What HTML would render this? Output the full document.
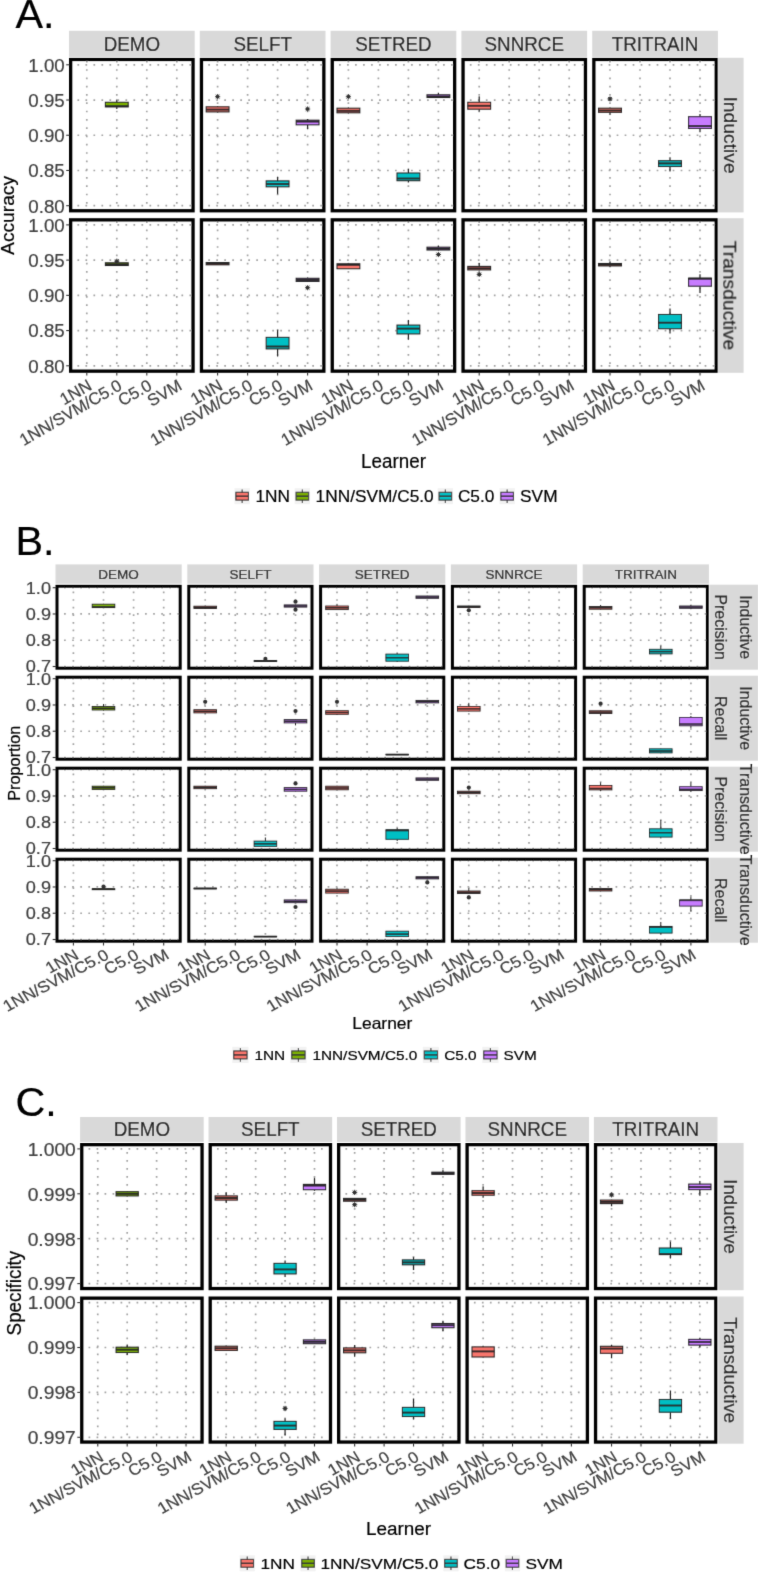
<!DOCTYPE html>
<html><head><meta charset="utf-8"><style>
html,body{margin:0;padding:0;background:#fff;overflow:hidden;}
svg{display:block;}
text{font-family:"Liberation Sans", sans-serif;}
</style></head><body>
<svg width="758" height="1572" viewBox="0 0 758 1572">
<defs><filter id="bl" x="0" y="0" width="758" height="1572" filterUnits="userSpaceOnUse"><feConvolveMatrix order="3" kernelMatrix="0.01134 0.08382 0.01134 0.08382 0.61935 0.08382 0.01134 0.08382 0.01134" divisor="1" edgeMode="none"/></filter></defs>
<rect width="758" height="1572" fill="#fff"/>
<g filter="url(#bl)">
<text transform="translate(15.50,28.10)" font-size="41.3" fill="#000" stroke="#000" stroke-width="0.2">A.</text>
<rect x="69.00" y="30.80" width="125.70" height="26.10" fill="#D9D9D9"/>
<text transform="translate(131.85,51.30) scale(0.950,1)" font-size="19.8" text-anchor="middle" fill="#1A1A1A" stroke="#1A1A1A" stroke-width="0.2">DEMO</text>
<rect x="199.80" y="30.80" width="125.70" height="26.10" fill="#D9D9D9"/>
<text transform="translate(262.65,51.30) scale(0.950,1)" font-size="19.8" text-anchor="middle" fill="#1A1A1A" stroke="#1A1A1A" stroke-width="0.2">SELFT</text>
<rect x="330.60" y="30.80" width="125.70" height="26.10" fill="#D9D9D9"/>
<text transform="translate(393.45,51.30) scale(0.950,1)" font-size="19.8" text-anchor="middle" fill="#1A1A1A" stroke="#1A1A1A" stroke-width="0.2">SETRED</text>
<rect x="461.40" y="30.80" width="125.70" height="26.10" fill="#D9D9D9"/>
<text transform="translate(524.25,51.30) scale(0.950,1)" font-size="19.8" text-anchor="middle" fill="#1A1A1A" stroke="#1A1A1A" stroke-width="0.2">SNNRCE</text>
<rect x="592.20" y="30.80" width="125.70" height="26.10" fill="#D9D9D9"/>
<text transform="translate(655.05,51.30) scale(0.950,1)" font-size="19.8" text-anchor="middle" fill="#1A1A1A" stroke="#1A1A1A" stroke-width="0.2">TRITRAIN</text>
<rect x="718.00" y="57.80" width="25.60" height="154.60" fill="#D9D9D9"/>
<text transform="translate(723.50,135.10) scale(0.990,1) rotate(90)" font-size="19.3" text-anchor="middle" fill="#1A1A1A" stroke="#1A1A1A" stroke-width="0.2">Inductive</text>
<rect x="718.00" y="218.20" width="25.60" height="154.60" fill="#D9D9D9"/>
<text transform="translate(723.50,295.50) scale(0.990,1) rotate(90)" font-size="19.3" text-anchor="middle" fill="#1A1A1A" stroke="#1A1A1A" stroke-width="0.2">Transductive</text>
<path d="M72.50 64.80H191.70M72.50 100.03H191.70M72.50 135.25H191.70M72.50 170.48H191.70M72.50 205.70H191.70" stroke="#A3A3A3" stroke-width="1.7" stroke-dasharray="1.7 6.30" stroke-dashoffset="3.05" fill="none"/>
<path d="M86.80 208.90V60.80M116.80 208.90V60.80M146.80 208.90V60.80M176.80 208.90V60.80" stroke="#A3A3A3" stroke-width="1.7" stroke-dasharray="1.7 6.60" stroke-dashoffset="3.05" fill="none"/>
<path d="M116.80 99.50V102.30M116.80 106.90V109.00" stroke="#222" stroke-width="1.21"/>
<rect x="105.40" y="102.30" width="22.80" height="4.60" fill="#7CAE00" stroke="#262626" stroke-width="1.1"/>
<path d="M105.40 106.10H128.20" stroke="#262626" stroke-width="1.9"/>
<rect x="70.65" y="59.45" width="122.40" height="151.30" fill="none" stroke="#000" stroke-width="3.3"/>
<path d="M66.20 64.80H69.50" stroke="#333" stroke-width="1.1"/>
<text transform="translate(64.70,71.65) scale(0.975,1)" font-size="19.2" text-anchor="end" fill="#404040" stroke="#404040" stroke-width="0.2">1.00</text>
<path d="M66.20 100.03H69.50" stroke="#333" stroke-width="1.1"/>
<text transform="translate(64.70,106.88) scale(0.975,1)" font-size="19.2" text-anchor="end" fill="#404040" stroke="#404040" stroke-width="0.2">0.95</text>
<path d="M66.20 135.25H69.50" stroke="#333" stroke-width="1.1"/>
<text transform="translate(64.70,142.10) scale(0.975,1)" font-size="19.2" text-anchor="end" fill="#404040" stroke="#404040" stroke-width="0.2">0.90</text>
<path d="M66.20 170.48H69.50" stroke="#333" stroke-width="1.1"/>
<text transform="translate(64.70,177.33) scale(0.975,1)" font-size="19.2" text-anchor="end" fill="#404040" stroke="#404040" stroke-width="0.2">0.85</text>
<path d="M66.20 205.70H69.50" stroke="#333" stroke-width="1.1"/>
<text transform="translate(64.70,212.55) scale(0.975,1)" font-size="19.2" text-anchor="end" fill="#404040" stroke="#404040" stroke-width="0.2">0.80</text>
<path d="M203.30 64.80H322.50M203.30 100.03H322.50M203.30 135.25H322.50M203.30 170.48H322.50M203.30 205.70H322.50" stroke="#A3A3A3" stroke-width="1.7" stroke-dasharray="1.7 6.30" stroke-dashoffset="3.05" fill="none"/>
<path d="M217.60 208.90V60.80M247.60 208.90V60.80M277.60 208.90V60.80M307.60 208.90V60.80" stroke="#A3A3A3" stroke-width="1.7" stroke-dasharray="1.7 6.60" stroke-dashoffset="3.05" fill="none"/>
<path d="M217.60 106.00V106.80M217.60 111.90V112.50" stroke="#222" stroke-width="1.21"/>
<rect x="206.20" y="106.80" width="22.80" height="5.10" fill="#F8766D" stroke="#262626" stroke-width="1.1"/>
<path d="M206.20 109.60H229.00" stroke="#262626" stroke-width="1.9"/>
<circle cx="217.60" cy="96.70" r="1.8" fill="#333"/>
<path d="M215.00 96.70H220.20M217.60 94.10V99.30M215.70 94.80L219.50 98.60M215.70 98.60L219.50 94.80" stroke="#333" stroke-width="0.9"/>
<path d="M277.60 176.70V180.90M277.60 186.80V194.20" stroke="#222" stroke-width="1.21"/>
<rect x="266.20" y="180.90" width="22.80" height="5.90" fill="#00BFC4" stroke="#262626" stroke-width="1.1"/>
<path d="M266.20 184.00H289.00" stroke="#262626" stroke-width="1.9"/>
<path d="M307.60 119.00V120.20M307.60 124.80V129.30" stroke="#222" stroke-width="1.21"/>
<rect x="296.20" y="120.20" width="22.80" height="4.60" fill="#C77CFF" stroke="#262626" stroke-width="1.1"/>
<path d="M296.20 121.60H319.00" stroke="#262626" stroke-width="1.9"/>
<circle cx="307.60" cy="109.00" r="1.8" fill="#333"/>
<path d="M305.00 109.00H310.20M307.60 106.40V111.60M305.70 107.10L309.50 110.90M305.70 110.90L309.50 107.10" stroke="#333" stroke-width="0.9"/>
<rect x="201.45" y="59.45" width="122.40" height="151.30" fill="none" stroke="#000" stroke-width="3.3"/>
<path d="M334.10 64.80H453.30M334.10 100.03H453.30M334.10 135.25H453.30M334.10 170.48H453.30M334.10 205.70H453.30" stroke="#A3A3A3" stroke-width="1.7" stroke-dasharray="1.7 6.30" stroke-dashoffset="3.05" fill="none"/>
<path d="M348.40 208.90V60.80M378.40 208.90V60.80M408.40 208.90V60.80M438.40 208.90V60.80" stroke="#A3A3A3" stroke-width="1.7" stroke-dasharray="1.7 6.60" stroke-dashoffset="3.05" fill="none"/>
<path d="M348.40 107.50V108.20M348.40 112.80V113.50" stroke="#222" stroke-width="1.21"/>
<rect x="337.00" y="108.20" width="22.80" height="4.60" fill="#F8766D" stroke="#262626" stroke-width="1.1"/>
<path d="M337.00 110.80H359.80" stroke="#262626" stroke-width="1.9"/>
<circle cx="348.40" cy="96.70" r="1.8" fill="#333"/>
<path d="M345.80 96.70H351.00M348.40 94.10V99.30M346.50 94.80L350.30 98.60M346.50 98.60L350.30 94.80" stroke="#333" stroke-width="0.9"/>
<path d="M408.40 168.70V173.00M408.40 180.70V182.40" stroke="#222" stroke-width="1.21"/>
<rect x="397.00" y="173.00" width="22.80" height="7.70" fill="#00BFC4" stroke="#262626" stroke-width="1.1"/>
<path d="M397.00 178.50H419.80" stroke="#262626" stroke-width="1.9"/>
<path d="M438.40 92.70V94.80M438.40 97.50V98.00" stroke="#222" stroke-width="1.21"/>
<rect x="427.00" y="94.80" width="22.80" height="2.70" fill="#C77CFF" stroke="#262626" stroke-width="1.1"/>
<path d="M427.00 96.50H449.80" stroke="#262626" stroke-width="1.9"/>
<rect x="332.25" y="59.45" width="122.40" height="151.30" fill="none" stroke="#000" stroke-width="3.3"/>
<path d="M464.90 64.80H584.10M464.90 100.03H584.10M464.90 135.25H584.10M464.90 170.48H584.10M464.90 205.70H584.10" stroke="#A3A3A3" stroke-width="1.7" stroke-dasharray="1.7 6.30" stroke-dashoffset="3.05" fill="none"/>
<path d="M479.20 208.90V60.80M509.20 208.90V60.80M539.20 208.90V60.80M569.20 208.90V60.80" stroke="#A3A3A3" stroke-width="1.7" stroke-dasharray="1.7 6.60" stroke-dashoffset="3.05" fill="none"/>
<path d="M479.20 96.20V102.30M479.20 109.20V111.60" stroke="#222" stroke-width="1.21"/>
<rect x="467.80" y="102.30" width="22.80" height="6.90" fill="#F8766D" stroke="#262626" stroke-width="1.1"/>
<path d="M467.80 105.80H490.60" stroke="#262626" stroke-width="1.9"/>
<rect x="463.05" y="59.45" width="122.40" height="151.30" fill="none" stroke="#000" stroke-width="3.3"/>
<path d="M595.70 64.80H714.90M595.70 100.03H714.90M595.70 135.25H714.90M595.70 170.48H714.90M595.70 205.70H714.90" stroke="#A3A3A3" stroke-width="1.7" stroke-dasharray="1.7 6.30" stroke-dashoffset="3.05" fill="none"/>
<path d="M610.00 208.90V60.80M640.00 208.90V60.80M670.00 208.90V60.80M700.00 208.90V60.80" stroke="#A3A3A3" stroke-width="1.7" stroke-dasharray="1.7 6.60" stroke-dashoffset="3.05" fill="none"/>
<path d="M610.00 107.50V108.20M610.00 112.30V115.00" stroke="#222" stroke-width="1.21"/>
<rect x="598.60" y="108.20" width="22.80" height="4.10" fill="#F8766D" stroke="#262626" stroke-width="1.1"/>
<path d="M598.60 110.50H621.40" stroke="#262626" stroke-width="1.9"/>
<circle cx="610.00" cy="98.90" r="1.8" fill="#333"/>
<path d="M607.40 98.90H612.60M610.00 96.30V101.50M608.10 97.00L611.90 100.80M608.10 100.80L611.90 97.00" stroke="#333" stroke-width="0.9"/>
<path d="M670.00 157.20V160.70M670.00 166.50V171.60" stroke="#222" stroke-width="1.21"/>
<rect x="658.60" y="160.70" width="22.80" height="5.80" fill="#00BFC4" stroke="#262626" stroke-width="1.1"/>
<path d="M658.60 163.40H681.40" stroke="#262626" stroke-width="1.9"/>
<path d="M700.00 114.00V116.70M700.00 128.40V132.20" stroke="#222" stroke-width="1.21"/>
<rect x="688.60" y="116.70" width="22.80" height="11.70" fill="#C77CFF" stroke="#262626" stroke-width="1.1"/>
<path d="M688.60 126.00H711.40" stroke="#262626" stroke-width="1.9"/>
<rect x="593.85" y="59.45" width="122.40" height="151.30" fill="none" stroke="#000" stroke-width="3.3"/>
<path d="M72.50 224.90H191.70M72.50 260.12H191.70M72.50 295.35H191.70M72.50 330.57H191.70M72.50 365.80H191.70" stroke="#A3A3A3" stroke-width="1.7" stroke-dasharray="1.7 6.30" stroke-dashoffset="3.05" fill="none"/>
<path d="M86.80 369.30V221.20M116.80 369.30V221.20M146.80 369.30V221.20M176.80 369.30V221.20" stroke="#A3A3A3" stroke-width="1.7" stroke-dasharray="1.7 6.60" stroke-dashoffset="3.05" fill="none"/>
<path d="M116.80 262.50V262.80M116.80 265.50V266.00" stroke="#222" stroke-width="1.21"/>
<rect x="105.40" y="262.80" width="22.80" height="2.70" fill="#7CAE00" stroke="#262626" stroke-width="1.1"/>
<path d="M105.40 264.30H128.20" stroke="#262626" stroke-width="1.9"/>
<circle cx="116.80" cy="261.20" r="1.8" fill="#333"/>
<path d="M114.20 261.20H119.40M116.80 258.60V263.80M114.90 259.30L118.70 263.10M114.90 263.10L118.70 259.30" stroke="#333" stroke-width="0.9"/>
<rect x="70.65" y="219.85" width="122.40" height="151.30" fill="none" stroke="#000" stroke-width="3.3"/>
<path d="M66.20 224.90H69.50" stroke="#333" stroke-width="1.1"/>
<text transform="translate(64.70,231.75) scale(0.975,1)" font-size="19.2" text-anchor="end" fill="#404040" stroke="#404040" stroke-width="0.2">1.00</text>
<path d="M66.20 260.12H69.50" stroke="#333" stroke-width="1.1"/>
<text transform="translate(64.70,266.98) scale(0.975,1)" font-size="19.2" text-anchor="end" fill="#404040" stroke="#404040" stroke-width="0.2">0.95</text>
<path d="M66.20 295.35H69.50" stroke="#333" stroke-width="1.1"/>
<text transform="translate(64.70,302.20) scale(0.975,1)" font-size="19.2" text-anchor="end" fill="#404040" stroke="#404040" stroke-width="0.2">0.90</text>
<path d="M66.20 330.57H69.50" stroke="#333" stroke-width="1.1"/>
<text transform="translate(64.70,337.43) scale(0.975,1)" font-size="19.2" text-anchor="end" fill="#404040" stroke="#404040" stroke-width="0.2">0.85</text>
<path d="M66.20 365.80H69.50" stroke="#333" stroke-width="1.1"/>
<text transform="translate(64.70,372.65) scale(0.975,1)" font-size="19.2" text-anchor="end" fill="#404040" stroke="#404040" stroke-width="0.2">0.80</text>
<path d="M86.80 372.30V375.60" stroke="#333" stroke-width="1.1"/>
<text transform="translate(93.00,388.80) rotate(-30)" font-size="16.8" text-anchor="end" fill="#404040" stroke="#404040" stroke-width="0.2">1NN</text>
<path d="M116.80 372.30V375.60" stroke="#333" stroke-width="1.1"/>
<text transform="translate(123.00,388.80) rotate(-30)" font-size="16.8" text-anchor="end" fill="#404040" stroke="#404040" stroke-width="0.2">1NN/SVM/C5.0</text>
<path d="M146.80 372.30V375.60" stroke="#333" stroke-width="1.1"/>
<text transform="translate(153.00,388.80) rotate(-30)" font-size="16.8" text-anchor="end" fill="#404040" stroke="#404040" stroke-width="0.2">C5.0</text>
<path d="M176.80 372.30V375.60" stroke="#333" stroke-width="1.1"/>
<text transform="translate(183.00,388.80) rotate(-30)" font-size="16.8" text-anchor="end" fill="#404040" stroke="#404040" stroke-width="0.2">SVM</text>
<path d="M203.30 224.90H322.50M203.30 260.12H322.50M203.30 295.35H322.50M203.30 330.57H322.50M203.30 365.80H322.50" stroke="#A3A3A3" stroke-width="1.7" stroke-dasharray="1.7 6.30" stroke-dashoffset="3.05" fill="none"/>
<path d="M217.60 369.30V221.20M247.60 369.30V221.20M277.60 369.30V221.20M307.60 369.30V221.20" stroke="#A3A3A3" stroke-width="1.7" stroke-dasharray="1.7 6.60" stroke-dashoffset="3.05" fill="none"/>
<path d="M217.60 262.50V262.60M217.60 264.80V265.00" stroke="#222" stroke-width="1.21"/>
<rect x="206.20" y="262.60" width="22.80" height="2.20" fill="#F8766D" stroke="#262626" stroke-width="1.1"/>
<path d="M206.20 263.60H229.00" stroke="#262626" stroke-width="1.9"/>
<path d="M277.60 329.70V337.40M277.60 348.90V356.60" stroke="#222" stroke-width="1.21"/>
<rect x="266.20" y="337.40" width="22.80" height="11.50" fill="#00BFC4" stroke="#262626" stroke-width="1.1"/>
<path d="M266.20 346.50H289.00" stroke="#262626" stroke-width="1.9"/>
<path d="M307.60 277.50V278.30M307.60 281.40V282.00" stroke="#222" stroke-width="1.21"/>
<rect x="296.20" y="278.30" width="22.80" height="3.10" fill="#C77CFF" stroke="#262626" stroke-width="1.1"/>
<path d="M296.20 280.00H319.00" stroke="#262626" stroke-width="1.9"/>
<circle cx="307.60" cy="287.70" r="1.8" fill="#333"/>
<path d="M305.00 287.70H310.20M307.60 285.10V290.30M305.70 285.80L309.50 289.60M305.70 289.60L309.50 285.80" stroke="#333" stroke-width="0.9"/>
<rect x="201.45" y="219.85" width="122.40" height="151.30" fill="none" stroke="#000" stroke-width="3.3"/>
<path d="M217.60 372.30V375.60" stroke="#333" stroke-width="1.1"/>
<text transform="translate(223.80,388.80) rotate(-30)" font-size="16.8" text-anchor="end" fill="#404040" stroke="#404040" stroke-width="0.2">1NN</text>
<path d="M247.60 372.30V375.60" stroke="#333" stroke-width="1.1"/>
<text transform="translate(253.80,388.80) rotate(-30)" font-size="16.8" text-anchor="end" fill="#404040" stroke="#404040" stroke-width="0.2">1NN/SVM/C5.0</text>
<path d="M277.60 372.30V375.60" stroke="#333" stroke-width="1.1"/>
<text transform="translate(283.80,388.80) rotate(-30)" font-size="16.8" text-anchor="end" fill="#404040" stroke="#404040" stroke-width="0.2">C5.0</text>
<path d="M307.60 372.30V375.60" stroke="#333" stroke-width="1.1"/>
<text transform="translate(313.80,388.80) rotate(-30)" font-size="16.8" text-anchor="end" fill="#404040" stroke="#404040" stroke-width="0.2">SVM</text>
<path d="M334.10 224.90H453.30M334.10 260.12H453.30M334.10 295.35H453.30M334.10 330.57H453.30M334.10 365.80H453.30" stroke="#A3A3A3" stroke-width="1.7" stroke-dasharray="1.7 6.30" stroke-dashoffset="3.05" fill="none"/>
<path d="M348.40 369.30V221.20M378.40 369.30V221.20M408.40 369.30V221.20M438.40 369.30V221.20" stroke="#A3A3A3" stroke-width="1.7" stroke-dasharray="1.7 6.60" stroke-dashoffset="3.05" fill="none"/>
<path d="M348.40 263.50V263.80M348.40 268.70V269.00" stroke="#222" stroke-width="1.21"/>
<rect x="337.00" y="263.80" width="22.80" height="4.90" fill="#F8766D" stroke="#262626" stroke-width="1.1"/>
<path d="M337.00 264.90H359.80" stroke="#262626" stroke-width="1.9"/>
<path d="M408.40 319.90V325.10M408.40 333.90V339.80" stroke="#222" stroke-width="1.21"/>
<rect x="397.00" y="325.10" width="22.80" height="8.80" fill="#00BFC4" stroke="#262626" stroke-width="1.1"/>
<path d="M397.00 328.60H419.80" stroke="#262626" stroke-width="1.9"/>
<path d="M438.40 245.40V247.20M438.40 250.00V250.50" stroke="#222" stroke-width="1.21"/>
<rect x="427.00" y="247.20" width="22.80" height="2.80" fill="#C77CFF" stroke="#262626" stroke-width="1.1"/>
<path d="M427.00 248.80H449.80" stroke="#262626" stroke-width="1.9"/>
<circle cx="438.40" cy="254.50" r="1.8" fill="#333"/>
<path d="M435.80 254.50H441.00M438.40 251.90V257.10M436.50 252.60L440.30 256.40M436.50 256.40L440.30 252.60" stroke="#333" stroke-width="0.9"/>
<rect x="332.25" y="219.85" width="122.40" height="151.30" fill="none" stroke="#000" stroke-width="3.3"/>
<path d="M348.40 372.30V375.60" stroke="#333" stroke-width="1.1"/>
<text transform="translate(354.60,388.80) rotate(-30)" font-size="16.8" text-anchor="end" fill="#404040" stroke="#404040" stroke-width="0.2">1NN</text>
<path d="M378.40 372.30V375.60" stroke="#333" stroke-width="1.1"/>
<text transform="translate(384.60,388.80) rotate(-30)" font-size="16.8" text-anchor="end" fill="#404040" stroke="#404040" stroke-width="0.2">1NN/SVM/C5.0</text>
<path d="M408.40 372.30V375.60" stroke="#333" stroke-width="1.1"/>
<text transform="translate(414.60,388.80) rotate(-30)" font-size="16.8" text-anchor="end" fill="#404040" stroke="#404040" stroke-width="0.2">C5.0</text>
<path d="M438.40 372.30V375.60" stroke="#333" stroke-width="1.1"/>
<text transform="translate(444.60,388.80) rotate(-30)" font-size="16.8" text-anchor="end" fill="#404040" stroke="#404040" stroke-width="0.2">SVM</text>
<path d="M464.90 224.90H584.10M464.90 260.12H584.10M464.90 295.35H584.10M464.90 330.57H584.10M464.90 365.80H584.10" stroke="#A3A3A3" stroke-width="1.7" stroke-dasharray="1.7 6.30" stroke-dashoffset="3.05" fill="none"/>
<path d="M479.20 369.30V221.20M509.20 369.30V221.20M539.20 369.30V221.20M569.20 369.30V221.20" stroke="#A3A3A3" stroke-width="1.7" stroke-dasharray="1.7 6.60" stroke-dashoffset="3.05" fill="none"/>
<path d="M479.20 263.00V266.40M479.20 269.90V270.50" stroke="#222" stroke-width="1.21"/>
<rect x="467.80" y="266.40" width="22.80" height="3.50" fill="#F8766D" stroke="#262626" stroke-width="1.1"/>
<path d="M467.80 268.30H490.60" stroke="#262626" stroke-width="1.9"/>
<circle cx="479.20" cy="274.40" r="1.8" fill="#333"/>
<path d="M476.60 274.40H481.80M479.20 271.80V277.00M477.30 272.50L481.10 276.30M477.30 276.30L481.10 272.50" stroke="#333" stroke-width="0.9"/>
<rect x="463.05" y="219.85" width="122.40" height="151.30" fill="none" stroke="#000" stroke-width="3.3"/>
<path d="M479.20 372.30V375.60" stroke="#333" stroke-width="1.1"/>
<text transform="translate(485.40,388.80) rotate(-30)" font-size="16.8" text-anchor="end" fill="#404040" stroke="#404040" stroke-width="0.2">1NN</text>
<path d="M509.20 372.30V375.60" stroke="#333" stroke-width="1.1"/>
<text transform="translate(515.40,388.80) rotate(-30)" font-size="16.8" text-anchor="end" fill="#404040" stroke="#404040" stroke-width="0.2">1NN/SVM/C5.0</text>
<path d="M539.20 372.30V375.60" stroke="#333" stroke-width="1.1"/>
<text transform="translate(545.40,388.80) rotate(-30)" font-size="16.8" text-anchor="end" fill="#404040" stroke="#404040" stroke-width="0.2">C5.0</text>
<path d="M569.20 372.30V375.60" stroke="#333" stroke-width="1.1"/>
<text transform="translate(575.40,388.80) rotate(-30)" font-size="16.8" text-anchor="end" fill="#404040" stroke="#404040" stroke-width="0.2">SVM</text>
<path d="M595.70 224.90H714.90M595.70 260.12H714.90M595.70 295.35H714.90M595.70 330.57H714.90M595.70 365.80H714.90" stroke="#A3A3A3" stroke-width="1.7" stroke-dasharray="1.7 6.30" stroke-dashoffset="3.05" fill="none"/>
<path d="M610.00 369.30V221.20M640.00 369.30V221.20M670.00 369.30V221.20M700.00 369.30V221.20" stroke="#A3A3A3" stroke-width="1.7" stroke-dasharray="1.7 6.60" stroke-dashoffset="3.05" fill="none"/>
<path d="M610.00 261.30V263.50M610.00 265.90V267.30" stroke="#222" stroke-width="1.21"/>
<rect x="598.60" y="263.50" width="22.80" height="2.40" fill="#F8766D" stroke="#262626" stroke-width="1.1"/>
<path d="M598.60 264.70H621.40" stroke="#262626" stroke-width="1.9"/>
<path d="M670.00 308.50V314.50M670.00 328.70V333.40" stroke="#222" stroke-width="1.21"/>
<rect x="658.60" y="314.50" width="22.80" height="14.20" fill="#00BFC4" stroke="#262626" stroke-width="1.1"/>
<path d="M658.60 322.70H681.40" stroke="#262626" stroke-width="1.9"/>
<path d="M700.00 274.20V278.10M700.00 286.20V293.00" stroke="#222" stroke-width="1.21"/>
<rect x="688.60" y="278.10" width="22.80" height="8.10" fill="#C77CFF" stroke="#262626" stroke-width="1.1"/>
<path d="M688.60 278.80H711.40" stroke="#262626" stroke-width="1.9"/>
<rect x="593.85" y="219.85" width="122.40" height="151.30" fill="none" stroke="#000" stroke-width="3.3"/>
<path d="M610.00 372.30V375.60" stroke="#333" stroke-width="1.1"/>
<text transform="translate(616.20,388.80) rotate(-30)" font-size="16.8" text-anchor="end" fill="#404040" stroke="#404040" stroke-width="0.2">1NN</text>
<path d="M640.00 372.30V375.60" stroke="#333" stroke-width="1.1"/>
<text transform="translate(646.20,388.80) rotate(-30)" font-size="16.8" text-anchor="end" fill="#404040" stroke="#404040" stroke-width="0.2">1NN/SVM/C5.0</text>
<path d="M670.00 372.30V375.60" stroke="#333" stroke-width="1.1"/>
<text transform="translate(676.20,388.80) rotate(-30)" font-size="16.8" text-anchor="end" fill="#404040" stroke="#404040" stroke-width="0.2">C5.0</text>
<path d="M700.00 372.30V375.60" stroke="#333" stroke-width="1.1"/>
<text transform="translate(706.20,388.80) rotate(-30)" font-size="16.8" text-anchor="end" fill="#404040" stroke="#404040" stroke-width="0.2">SVM</text>
<text transform="translate(14.40,215.45) rotate(-90)" font-size="19.2" text-anchor="middle" fill="#000" stroke="#000" stroke-width="0.2">Accuracy</text>
<text transform="translate(393.50,467.80) scale(0.950,1)" font-size="19.8" text-anchor="middle" fill="#000" stroke="#000" stroke-width="0.2">Learner</text>
<rect x="234.50" y="488.20" width="15.30" height="16.00" fill="#F2F2F2"/>
<path d="M242.15 489.48V502.92" stroke="#333" stroke-width="1.1"/>
<rect x="235.88" y="492.28" width="12.55" height="7.84" fill="#F8766D" stroke="#333" stroke-width="1.1"/>
<path d="M235.88 496.20H248.42" stroke="#333" stroke-width="1.5"/>
<text transform="translate(255.40,502.10) scale(1.080,1)" font-size="16" fill="#000" stroke="#000" stroke-width="0.2">1NN</text>
<rect x="294.70" y="488.20" width="15.30" height="16.00" fill="#F2F2F2"/>
<path d="M302.35 489.48V502.92" stroke="#333" stroke-width="1.1"/>
<rect x="296.08" y="492.28" width="12.55" height="7.84" fill="#7CAE00" stroke="#333" stroke-width="1.1"/>
<path d="M296.08 496.20H308.62" stroke="#333" stroke-width="1.5"/>
<text transform="translate(315.60,502.10) scale(1.080,1)" font-size="16" fill="#000" stroke="#000" stroke-width="0.2">1NN/SVM/C5.0</text>
<rect x="437.70" y="488.20" width="15.30" height="16.00" fill="#F2F2F2"/>
<path d="M445.35 489.48V502.92" stroke="#333" stroke-width="1.1"/>
<rect x="439.08" y="492.28" width="12.55" height="7.84" fill="#00BFC4" stroke="#333" stroke-width="1.1"/>
<path d="M439.08 496.20H451.62" stroke="#333" stroke-width="1.5"/>
<text transform="translate(457.90,502.10) scale(1.080,1)" font-size="16" fill="#000" stroke="#000" stroke-width="0.2">C5.0</text>
<rect x="499.50" y="488.20" width="15.30" height="16.00" fill="#F2F2F2"/>
<path d="M507.15 489.48V502.92" stroke="#333" stroke-width="1.1"/>
<rect x="500.88" y="492.28" width="12.55" height="7.84" fill="#C77CFF" stroke="#333" stroke-width="1.1"/>
<path d="M500.88 496.20H513.42" stroke="#333" stroke-width="1.5"/>
<text transform="translate(520.10,502.10) scale(1.080,1)" font-size="16" fill="#000" stroke="#000" stroke-width="0.2">SVM</text>
<text transform="translate(15.50,555.40)" font-size="41.3" fill="#000" stroke="#000" stroke-width="0.2">B.</text>
<rect x="55.50" y="564.40" width="126.20" height="19.30" fill="#D9D9D9"/>
<text transform="translate(118.60,578.50) scale(1.100,1)" font-size="12.3" text-anchor="middle" fill="#1A1A1A" stroke="#1A1A1A" stroke-width="0.2">DEMO</text>
<rect x="187.30" y="564.40" width="126.20" height="19.30" fill="#D9D9D9"/>
<text transform="translate(250.40,578.50) scale(1.100,1)" font-size="12.3" text-anchor="middle" fill="#1A1A1A" stroke="#1A1A1A" stroke-width="0.2">SELFT</text>
<rect x="319.10" y="564.40" width="126.20" height="19.30" fill="#D9D9D9"/>
<text transform="translate(382.20,578.50) scale(1.100,1)" font-size="12.3" text-anchor="middle" fill="#1A1A1A" stroke="#1A1A1A" stroke-width="0.2">SETRED</text>
<rect x="450.90" y="564.40" width="126.20" height="19.30" fill="#D9D9D9"/>
<text transform="translate(514.00,578.50) scale(1.100,1)" font-size="12.3" text-anchor="middle" fill="#1A1A1A" stroke="#1A1A1A" stroke-width="0.2">SNNRCE</text>
<rect x="582.70" y="564.40" width="126.20" height="19.30" fill="#D9D9D9"/>
<text transform="translate(645.80,578.50) scale(1.100,1)" font-size="12.3" text-anchor="middle" fill="#1A1A1A" stroke="#1A1A1A" stroke-width="0.2">TRITRAIN</text>
<rect x="709.40" y="584.70" width="48.60" height="85.00" fill="#D9D9D9"/>
<text transform="translate(739.80,627.20) scale(1.050,1) rotate(90)" font-size="15.95" text-anchor="middle" fill="#1A1A1A" stroke="#1A1A1A" stroke-width="0.2">Inductive</text>
<text transform="translate(715.30,627.20) scale(1.050,1) rotate(90)" font-size="15.95" text-anchor="middle" fill="#1A1A1A" stroke="#1A1A1A" stroke-width="0.2">Precision</text>
<rect x="709.40" y="675.70" width="48.60" height="85.00" fill="#D9D9D9"/>
<text transform="translate(739.80,718.20) scale(1.050,1) rotate(90)" font-size="15.95" text-anchor="middle" fill="#1A1A1A" stroke="#1A1A1A" stroke-width="0.2">Inductive</text>
<text transform="translate(715.30,718.20) scale(1.050,1) rotate(90)" font-size="15.95" text-anchor="middle" fill="#1A1A1A" stroke="#1A1A1A" stroke-width="0.2">Recall</text>
<rect x="709.40" y="766.70" width="48.60" height="85.00" fill="#D9D9D9"/>
<text transform="translate(739.80,809.20) scale(1.050,1) rotate(90)" font-size="15.95" text-anchor="middle" fill="#1A1A1A" stroke="#1A1A1A" stroke-width="0.2">Transductive</text>
<text transform="translate(715.30,809.20) scale(1.050,1) rotate(90)" font-size="15.95" text-anchor="middle" fill="#1A1A1A" stroke="#1A1A1A" stroke-width="0.2">Precision</text>
<rect x="709.40" y="857.70" width="48.60" height="85.00" fill="#D9D9D9"/>
<text transform="translate(739.80,900.20) scale(1.050,1) rotate(90)" font-size="15.95" text-anchor="middle" fill="#1A1A1A" stroke="#1A1A1A" stroke-width="0.2">Transductive</text>
<text transform="translate(715.30,900.20) scale(1.050,1) rotate(90)" font-size="15.95" text-anchor="middle" fill="#1A1A1A" stroke="#1A1A1A" stroke-width="0.2">Recall</text>
<path d="M59.00 587.70H178.70M59.00 613.97H178.70M59.00 640.24H178.70M59.00 666.51H178.70" stroke="#A3A3A3" stroke-width="1.7" stroke-dasharray="1.7 6.40" stroke-dashoffset="3.05" fill="none"/>
<path d="M73.40 666.20V587.70M103.50 666.20V587.70M133.60 666.20V587.70M163.70 666.20V587.70" stroke="#A3A3A3" stroke-width="1.7" stroke-dasharray="1.7 5.90" stroke-dashoffset="3.05" fill="none"/>
<path d="M103.50 603.80V604.20M103.50 607.60V608.00" stroke="#222" stroke-width="0.99"/>
<rect x="92.20" y="604.20" width="22.60" height="3.40" fill="#7CAE00" stroke="#262626" stroke-width="0.9"/>
<path d="M92.20 606.80H114.80" stroke="#262626" stroke-width="1.5"/>
<rect x="57.00" y="586.20" width="123.20" height="82.00" fill="none" stroke="#000" stroke-width="3.0"/>
<path d="M52.70 587.70H56.00" stroke="#333" stroke-width="1.1"/>
<text transform="translate(51.00,593.60) scale(1.100,1)" font-size="16.5" text-anchor="end" fill="#404040" stroke="#404040" stroke-width="0.2">1.0</text>
<path d="M52.70 613.97H56.00" stroke="#333" stroke-width="1.1"/>
<text transform="translate(51.00,619.87) scale(1.100,1)" font-size="16.5" text-anchor="end" fill="#404040" stroke="#404040" stroke-width="0.2">0.9</text>
<path d="M52.70 640.24H56.00" stroke="#333" stroke-width="1.1"/>
<text transform="translate(51.00,646.14) scale(1.100,1)" font-size="16.5" text-anchor="end" fill="#404040" stroke="#404040" stroke-width="0.2">0.8</text>
<path d="M52.70 666.51H56.00" stroke="#333" stroke-width="1.1"/>
<text transform="translate(51.00,672.41) scale(1.100,1)" font-size="16.5" text-anchor="end" fill="#404040" stroke="#404040" stroke-width="0.2">0.7</text>
<path d="M190.80 587.70H310.50M190.80 613.97H310.50M190.80 640.24H310.50M190.80 666.51H310.50" stroke="#A3A3A3" stroke-width="1.7" stroke-dasharray="1.7 6.40" stroke-dashoffset="3.05" fill="none"/>
<path d="M205.20 666.20V587.70M235.30 666.20V587.70M265.40 666.20V587.70M295.50 666.20V587.70" stroke="#A3A3A3" stroke-width="1.7" stroke-dasharray="1.7 5.90" stroke-dashoffset="3.05" fill="none"/>
<path d="M205.20 605.50V606.20M205.20 608.50V609.00" stroke="#222" stroke-width="0.99"/>
<rect x="193.90" y="606.20" width="22.60" height="2.30" fill="#F8766D" stroke="#262626" stroke-width="0.9"/>
<path d="M193.90 607.40H216.50" stroke="#262626" stroke-width="1.5"/>
<path d="M265.40 660.50V660.60M265.40 661.40V661.50" stroke="#222" stroke-width="0.99"/>
<rect x="254.10" y="660.60" width="22.60" height="0.80" fill="#00BFC4" stroke="#262626" stroke-width="0.9"/>
<path d="M254.10 661.00H276.70" stroke="#262626" stroke-width="1.5"/>
<circle cx="265.40" cy="658.90" r="2.1" fill="#333"/>
<path d="M295.50 604.50V604.90M295.50 607.10V607.50" stroke="#222" stroke-width="0.99"/>
<rect x="284.20" y="604.90" width="22.60" height="2.20" fill="#C77CFF" stroke="#262626" stroke-width="0.9"/>
<path d="M284.20 606.00H306.80" stroke="#262626" stroke-width="1.5"/>
<circle cx="295.50" cy="601.70" r="2.1" fill="#333"/>
<circle cx="295.50" cy="609.70" r="2.1" fill="#333"/>
<rect x="188.80" y="586.20" width="123.20" height="82.00" fill="none" stroke="#000" stroke-width="3.0"/>
<path d="M322.60 587.70H442.30M322.60 613.97H442.30M322.60 640.24H442.30M322.60 666.51H442.30" stroke="#A3A3A3" stroke-width="1.7" stroke-dasharray="1.7 6.40" stroke-dashoffset="3.05" fill="none"/>
<path d="M337.00 666.20V587.70M367.10 666.20V587.70M397.20 666.20V587.70M427.30 666.20V587.70" stroke="#A3A3A3" stroke-width="1.7" stroke-dasharray="1.7 5.90" stroke-dashoffset="3.05" fill="none"/>
<path d="M337.00 603.90V606.00M337.00 609.60V610.00" stroke="#222" stroke-width="0.99"/>
<rect x="325.70" y="606.00" width="22.60" height="3.60" fill="#F8766D" stroke="#262626" stroke-width="0.9"/>
<path d="M325.70 607.80H348.30" stroke="#262626" stroke-width="1.5"/>
<path d="M397.20 653.50V654.10M397.20 661.20V661.80" stroke="#222" stroke-width="0.99"/>
<rect x="385.90" y="654.10" width="22.60" height="7.10" fill="#00BFC4" stroke="#262626" stroke-width="0.9"/>
<path d="M385.90 657.70H408.50" stroke="#262626" stroke-width="1.5"/>
<path d="M427.30 595.80V596.00M427.30 598.30V598.60" stroke="#222" stroke-width="0.99"/>
<rect x="416.00" y="596.00" width="22.60" height="2.30" fill="#C77CFF" stroke="#262626" stroke-width="0.9"/>
<path d="M416.00 597.10H438.60" stroke="#262626" stroke-width="1.5"/>
<rect x="320.60" y="586.20" width="123.20" height="82.00" fill="none" stroke="#000" stroke-width="3.0"/>
<path d="M454.40 587.70H574.10M454.40 613.97H574.10M454.40 640.24H574.10M454.40 666.51H574.10" stroke="#A3A3A3" stroke-width="1.7" stroke-dasharray="1.7 6.40" stroke-dashoffset="3.05" fill="none"/>
<path d="M468.80 666.20V587.70M498.90 666.20V587.70M529.00 666.20V587.70M559.10 666.20V587.70" stroke="#A3A3A3" stroke-width="1.7" stroke-dasharray="1.7 5.90" stroke-dashoffset="3.05" fill="none"/>
<path d="M468.80 605.80V606.00M468.80 607.40V607.60" stroke="#222" stroke-width="0.99"/>
<rect x="457.50" y="606.00" width="22.60" height="1.40" fill="#F8766D" stroke="#262626" stroke-width="0.9"/>
<path d="M457.50 606.70H480.10" stroke="#262626" stroke-width="1.5"/>
<circle cx="468.80" cy="610.30" r="2.1" fill="#333"/>
<rect x="452.40" y="586.20" width="123.20" height="82.00" fill="none" stroke="#000" stroke-width="3.0"/>
<path d="M586.20 587.70H705.90M586.20 613.97H705.90M586.20 640.24H705.90M586.20 666.51H705.90" stroke="#A3A3A3" stroke-width="1.7" stroke-dasharray="1.7 6.40" stroke-dashoffset="3.05" fill="none"/>
<path d="M600.60 666.20V587.70M630.70 666.20V587.70M660.80 666.20V587.70M690.90 666.20V587.70" stroke="#A3A3A3" stroke-width="1.7" stroke-dasharray="1.7 5.90" stroke-dashoffset="3.05" fill="none"/>
<path d="M600.60 605.00V606.50M600.60 609.20V609.60" stroke="#222" stroke-width="0.99"/>
<rect x="589.30" y="606.50" width="22.60" height="2.70" fill="#F8766D" stroke="#262626" stroke-width="0.9"/>
<path d="M589.30 607.80H611.90" stroke="#262626" stroke-width="1.5"/>
<path d="M660.80 645.80V649.30M660.80 653.90V656.40" stroke="#222" stroke-width="0.99"/>
<rect x="649.50" y="649.30" width="22.60" height="4.60" fill="#00BFC4" stroke="#262626" stroke-width="0.9"/>
<path d="M649.50 651.60H672.10" stroke="#262626" stroke-width="1.5"/>
<path d="M690.90 604.70V606.00M690.90 608.30V609.20" stroke="#222" stroke-width="0.99"/>
<rect x="679.60" y="606.00" width="22.60" height="2.30" fill="#C77CFF" stroke="#262626" stroke-width="0.9"/>
<path d="M679.60 607.10H702.20" stroke="#262626" stroke-width="1.5"/>
<rect x="584.20" y="586.20" width="123.20" height="82.00" fill="none" stroke="#000" stroke-width="3.0"/>
<path d="M59.00 678.70H178.70M59.00 704.97H178.70M59.00 731.24H178.70M59.00 757.51H178.70" stroke="#A3A3A3" stroke-width="1.7" stroke-dasharray="1.7 6.40" stroke-dashoffset="3.05" fill="none"/>
<path d="M73.40 757.20V678.70M103.50 757.20V678.70M133.60 757.20V678.70M163.70 757.20V678.70" stroke="#A3A3A3" stroke-width="1.7" stroke-dasharray="1.7 5.90" stroke-dashoffset="3.05" fill="none"/>
<path d="M103.50 704.00V706.50M103.50 710.00V710.50" stroke="#222" stroke-width="0.99"/>
<rect x="92.20" y="706.50" width="22.60" height="3.50" fill="#7CAE00" stroke="#262626" stroke-width="0.9"/>
<path d="M92.20 708.30H114.80" stroke="#262626" stroke-width="1.5"/>
<rect x="57.00" y="677.20" width="123.20" height="82.00" fill="none" stroke="#000" stroke-width="3.0"/>
<path d="M52.70 678.70H56.00" stroke="#333" stroke-width="1.1"/>
<text transform="translate(51.00,684.60) scale(1.100,1)" font-size="16.5" text-anchor="end" fill="#404040" stroke="#404040" stroke-width="0.2">1.0</text>
<path d="M52.70 704.97H56.00" stroke="#333" stroke-width="1.1"/>
<text transform="translate(51.00,710.87) scale(1.100,1)" font-size="16.5" text-anchor="end" fill="#404040" stroke="#404040" stroke-width="0.2">0.9</text>
<path d="M52.70 731.24H56.00" stroke="#333" stroke-width="1.1"/>
<text transform="translate(51.00,737.14) scale(1.100,1)" font-size="16.5" text-anchor="end" fill="#404040" stroke="#404040" stroke-width="0.2">0.8</text>
<path d="M52.70 757.51H56.00" stroke="#333" stroke-width="1.1"/>
<text transform="translate(51.00,763.41) scale(1.100,1)" font-size="16.5" text-anchor="end" fill="#404040" stroke="#404040" stroke-width="0.2">0.7</text>
<path d="M190.80 678.70H310.50M190.80 704.97H310.50M190.80 731.24H310.50M190.80 757.51H310.50" stroke="#A3A3A3" stroke-width="1.7" stroke-dasharray="1.7 6.40" stroke-dashoffset="3.05" fill="none"/>
<path d="M205.20 757.20V678.70M235.30 757.20V678.70M265.40 757.20V678.70M295.50 757.20V678.70" stroke="#A3A3A3" stroke-width="1.7" stroke-dasharray="1.7 5.90" stroke-dashoffset="3.05" fill="none"/>
<path d="M205.20 709.30V709.70M205.20 712.90V713.30" stroke="#222" stroke-width="0.99"/>
<rect x="193.90" y="709.70" width="22.60" height="3.20" fill="#F8766D" stroke="#262626" stroke-width="0.9"/>
<path d="M193.90 711.30H216.50" stroke="#262626" stroke-width="1.5"/>
<circle cx="205.20" cy="701.80" r="2.1" fill="#333"/>
<path d="M295.50 719.20V719.60M295.50 722.90V725.40" stroke="#222" stroke-width="0.99"/>
<rect x="284.20" y="719.60" width="22.60" height="3.30" fill="#C77CFF" stroke="#262626" stroke-width="0.9"/>
<path d="M284.20 721.20H306.80" stroke="#262626" stroke-width="1.5"/>
<circle cx="295.50" cy="711.10" r="2.1" fill="#333"/>
<rect x="188.80" y="677.20" width="123.20" height="82.00" fill="none" stroke="#000" stroke-width="3.0"/>
<path d="M322.60 678.70H442.30M322.60 704.97H442.30M322.60 731.24H442.30M322.60 757.51H442.30" stroke="#A3A3A3" stroke-width="1.7" stroke-dasharray="1.7 6.40" stroke-dashoffset="3.05" fill="none"/>
<path d="M337.00 757.20V678.70M367.10 757.20V678.70M397.20 757.20V678.70M427.30 757.20V678.70" stroke="#A3A3A3" stroke-width="1.7" stroke-dasharray="1.7 5.90" stroke-dashoffset="3.05" fill="none"/>
<path d="M337.00 710.30V710.70M337.00 714.30V714.80" stroke="#222" stroke-width="0.99"/>
<rect x="325.70" y="710.70" width="22.60" height="3.60" fill="#F8766D" stroke="#262626" stroke-width="0.9"/>
<path d="M325.70 712.50H348.30" stroke="#262626" stroke-width="1.5"/>
<circle cx="337.00" cy="701.80" r="2.1" fill="#333"/>
<path d="M397.20 754.20V754.30M397.20 754.90V755.00" stroke="#222" stroke-width="0.99"/>
<rect x="385.90" y="754.30" width="22.60" height="0.60" fill="#00BFC4" stroke="#262626" stroke-width="0.9"/>
<path d="M385.90 754.60H408.50" stroke="#262626" stroke-width="1.5"/>
<path d="M427.30 700.00V700.40M427.30 702.90V703.30" stroke="#222" stroke-width="0.99"/>
<rect x="416.00" y="700.40" width="22.60" height="2.50" fill="#C77CFF" stroke="#262626" stroke-width="0.9"/>
<path d="M416.00 701.60H438.60" stroke="#262626" stroke-width="1.5"/>
<rect x="320.60" y="677.20" width="123.20" height="82.00" fill="none" stroke="#000" stroke-width="3.0"/>
<path d="M454.40 678.70H574.10M454.40 704.97H574.10M454.40 731.24H574.10M454.40 757.51H574.10" stroke="#A3A3A3" stroke-width="1.7" stroke-dasharray="1.7 6.40" stroke-dashoffset="3.05" fill="none"/>
<path d="M468.80 757.20V678.70M498.90 757.20V678.70M529.00 757.20V678.70M559.10 757.20V678.70" stroke="#A3A3A3" stroke-width="1.7" stroke-dasharray="1.7 5.90" stroke-dashoffset="3.05" fill="none"/>
<path d="M468.80 702.90V706.50M468.80 711.10V711.50" stroke="#222" stroke-width="0.99"/>
<rect x="457.50" y="706.50" width="22.60" height="4.60" fill="#F8766D" stroke="#262626" stroke-width="0.9"/>
<path d="M457.50 708.80H480.10" stroke="#262626" stroke-width="1.5"/>
<rect x="452.40" y="677.20" width="123.20" height="82.00" fill="none" stroke="#000" stroke-width="3.0"/>
<path d="M586.20 678.70H705.90M586.20 704.97H705.90M586.20 731.24H705.90M586.20 757.51H705.90" stroke="#A3A3A3" stroke-width="1.7" stroke-dasharray="1.7 6.40" stroke-dashoffset="3.05" fill="none"/>
<path d="M600.60 757.20V678.70M630.70 757.20V678.70M660.80 757.20V678.70M690.90 757.20V678.70" stroke="#A3A3A3" stroke-width="1.7" stroke-dasharray="1.7 5.90" stroke-dashoffset="3.05" fill="none"/>
<path d="M600.60 710.40V710.80M600.60 713.50V715.80" stroke="#222" stroke-width="0.99"/>
<rect x="589.30" y="710.80" width="22.60" height="2.70" fill="#F8766D" stroke="#262626" stroke-width="0.9"/>
<path d="M589.30 712.10H611.90" stroke="#262626" stroke-width="1.5"/>
<circle cx="600.60" cy="703.70" r="2.1" fill="#333"/>
<path d="M660.80 748.50V748.80M660.80 752.90V753.30" stroke="#222" stroke-width="0.99"/>
<rect x="649.50" y="748.80" width="22.60" height="4.10" fill="#00BFC4" stroke="#262626" stroke-width="0.9"/>
<path d="M649.50 751.00H672.10" stroke="#262626" stroke-width="1.5"/>
<path d="M690.90 716.00V717.50M690.90 725.80V728.10" stroke="#222" stroke-width="0.99"/>
<rect x="679.60" y="717.50" width="22.60" height="8.30" fill="#C77CFF" stroke="#262626" stroke-width="0.9"/>
<path d="M679.60 724.00H702.20" stroke="#262626" stroke-width="1.5"/>
<rect x="584.20" y="677.20" width="123.20" height="82.00" fill="none" stroke="#000" stroke-width="3.0"/>
<path d="M59.00 769.70H178.70M59.00 795.97H178.70M59.00 822.24H178.70M59.00 848.51H178.70" stroke="#A3A3A3" stroke-width="1.7" stroke-dasharray="1.7 6.40" stroke-dashoffset="3.05" fill="none"/>
<path d="M73.40 848.20V769.70M103.50 848.20V769.70M133.60 848.20V769.70M163.70 848.20V769.70" stroke="#A3A3A3" stroke-width="1.7" stroke-dasharray="1.7 5.90" stroke-dashoffset="3.05" fill="none"/>
<path d="M103.50 785.80V786.20M103.50 789.40V789.80" stroke="#222" stroke-width="0.99"/>
<rect x="92.20" y="786.20" width="22.60" height="3.20" fill="#7CAE00" stroke="#262626" stroke-width="0.9"/>
<path d="M92.20 787.80H114.80" stroke="#262626" stroke-width="1.5"/>
<rect x="57.00" y="768.20" width="123.20" height="82.00" fill="none" stroke="#000" stroke-width="3.0"/>
<path d="M52.70 769.70H56.00" stroke="#333" stroke-width="1.1"/>
<text transform="translate(51.00,775.60) scale(1.100,1)" font-size="16.5" text-anchor="end" fill="#404040" stroke="#404040" stroke-width="0.2">1.0</text>
<path d="M52.70 795.97H56.00" stroke="#333" stroke-width="1.1"/>
<text transform="translate(51.00,801.87) scale(1.100,1)" font-size="16.5" text-anchor="end" fill="#404040" stroke="#404040" stroke-width="0.2">0.9</text>
<path d="M52.70 822.24H56.00" stroke="#333" stroke-width="1.1"/>
<text transform="translate(51.00,828.14) scale(1.100,1)" font-size="16.5" text-anchor="end" fill="#404040" stroke="#404040" stroke-width="0.2">0.8</text>
<path d="M52.70 848.51H56.00" stroke="#333" stroke-width="1.1"/>
<text transform="translate(51.00,854.41) scale(1.100,1)" font-size="16.5" text-anchor="end" fill="#404040" stroke="#404040" stroke-width="0.2">0.7</text>
<path d="M190.80 769.70H310.50M190.80 795.97H310.50M190.80 822.24H310.50M190.80 848.51H310.50" stroke="#A3A3A3" stroke-width="1.7" stroke-dasharray="1.7 6.40" stroke-dashoffset="3.05" fill="none"/>
<path d="M205.20 848.20V769.70M235.30 848.20V769.70M265.40 848.20V769.70M295.50 848.20V769.70" stroke="#A3A3A3" stroke-width="1.7" stroke-dasharray="1.7 5.90" stroke-dashoffset="3.05" fill="none"/>
<path d="M205.20 785.80V786.20M205.20 788.70V789.00" stroke="#222" stroke-width="0.99"/>
<rect x="193.90" y="786.20" width="22.60" height="2.50" fill="#F8766D" stroke="#262626" stroke-width="0.9"/>
<path d="M193.90 787.40H216.50" stroke="#262626" stroke-width="1.5"/>
<path d="M265.40 837.50V841.10M265.40 846.40V846.80" stroke="#222" stroke-width="0.99"/>
<rect x="254.10" y="841.10" width="22.60" height="5.30" fill="#00BFC4" stroke="#262626" stroke-width="0.9"/>
<path d="M254.10 843.80H276.70" stroke="#262626" stroke-width="1.5"/>
<path d="M295.50 787.20V787.60M295.50 791.20V791.60" stroke="#222" stroke-width="0.99"/>
<rect x="284.20" y="787.60" width="22.60" height="3.60" fill="#C77CFF" stroke="#262626" stroke-width="0.9"/>
<path d="M284.20 789.40H306.80" stroke="#262626" stroke-width="1.5"/>
<circle cx="295.50" cy="783.40" r="2.1" fill="#333"/>
<rect x="188.80" y="768.20" width="123.20" height="82.00" fill="none" stroke="#000" stroke-width="3.0"/>
<path d="M322.60 769.70H442.30M322.60 795.97H442.30M322.60 822.24H442.30M322.60 848.51H442.30" stroke="#A3A3A3" stroke-width="1.7" stroke-dasharray="1.7 6.40" stroke-dashoffset="3.05" fill="none"/>
<path d="M337.00 848.20V769.70M367.10 848.20V769.70M397.20 848.20V769.70M427.30 848.20V769.70" stroke="#A3A3A3" stroke-width="1.7" stroke-dasharray="1.7 5.90" stroke-dashoffset="3.05" fill="none"/>
<path d="M337.00 785.80V786.20M337.00 789.80V790.20" stroke="#222" stroke-width="0.99"/>
<rect x="325.70" y="786.20" width="22.60" height="3.60" fill="#F8766D" stroke="#262626" stroke-width="0.9"/>
<path d="M325.70 788.00H348.30" stroke="#262626" stroke-width="1.5"/>
<path d="M397.20 828.00V829.70M397.20 839.30V841.00" stroke="#222" stroke-width="0.99"/>
<rect x="385.90" y="829.70" width="22.60" height="9.60" fill="#00BFC4" stroke="#262626" stroke-width="0.9"/>
<path d="M385.90 830.60H408.50" stroke="#262626" stroke-width="1.5"/>
<path d="M427.30 777.60V777.90M427.30 780.30V780.60" stroke="#222" stroke-width="0.99"/>
<rect x="416.00" y="777.90" width="22.60" height="2.40" fill="#C77CFF" stroke="#262626" stroke-width="0.9"/>
<path d="M416.00 779.10H438.60" stroke="#262626" stroke-width="1.5"/>
<rect x="320.60" y="768.20" width="123.20" height="82.00" fill="none" stroke="#000" stroke-width="3.0"/>
<path d="M454.40 769.70H574.10M454.40 795.97H574.10M454.40 822.24H574.10M454.40 848.51H574.10" stroke="#A3A3A3" stroke-width="1.7" stroke-dasharray="1.7 6.40" stroke-dashoffset="3.05" fill="none"/>
<path d="M468.80 848.20V769.70M498.90 848.20V769.70M529.00 848.20V769.70M559.10 848.20V769.70" stroke="#A3A3A3" stroke-width="1.7" stroke-dasharray="1.7 5.90" stroke-dashoffset="3.05" fill="none"/>
<path d="M468.80 790.80V791.20M468.80 793.70V794.10" stroke="#222" stroke-width="0.99"/>
<rect x="457.50" y="791.20" width="22.60" height="2.50" fill="#F8766D" stroke="#262626" stroke-width="0.9"/>
<path d="M457.50 792.40H480.10" stroke="#262626" stroke-width="1.5"/>
<circle cx="468.80" cy="787.60" r="2.1" fill="#333"/>
<rect x="452.40" y="768.20" width="123.20" height="82.00" fill="none" stroke="#000" stroke-width="3.0"/>
<path d="M586.20 769.70H705.90M586.20 795.97H705.90M586.20 822.24H705.90M586.20 848.51H705.90" stroke="#A3A3A3" stroke-width="1.7" stroke-dasharray="1.7 6.40" stroke-dashoffset="3.05" fill="none"/>
<path d="M600.60 848.20V769.70M630.70 848.20V769.70M660.80 848.20V769.70M690.90 848.20V769.70" stroke="#A3A3A3" stroke-width="1.7" stroke-dasharray="1.7 5.90" stroke-dashoffset="3.05" fill="none"/>
<path d="M600.60 782.30V785.50M600.60 789.90V791.20" stroke="#222" stroke-width="0.99"/>
<rect x="589.30" y="785.50" width="22.60" height="4.40" fill="#F8766D" stroke="#262626" stroke-width="0.9"/>
<path d="M589.30 788.50H611.90" stroke="#262626" stroke-width="1.5"/>
<path d="M660.80 820.00V828.80M660.80 837.10V838.40" stroke="#222" stroke-width="0.99"/>
<rect x="649.50" y="828.80" width="22.60" height="8.30" fill="#00BFC4" stroke="#262626" stroke-width="0.9"/>
<path d="M649.50 832.70H672.10" stroke="#262626" stroke-width="1.5"/>
<path d="M690.90 782.30V786.70M690.90 790.60V792.00" stroke="#222" stroke-width="0.99"/>
<rect x="679.60" y="786.70" width="22.60" height="3.90" fill="#C77CFF" stroke="#262626" stroke-width="0.9"/>
<path d="M679.60 789.40H702.20" stroke="#262626" stroke-width="1.5"/>
<rect x="584.20" y="768.20" width="123.20" height="82.00" fill="none" stroke="#000" stroke-width="3.0"/>
<path d="M59.00 860.70H178.70M59.00 886.97H178.70M59.00 913.24H178.70M59.00 939.51H178.70" stroke="#A3A3A3" stroke-width="1.7" stroke-dasharray="1.7 6.40" stroke-dashoffset="3.05" fill="none"/>
<path d="M73.40 939.20V860.70M103.50 939.20V860.70M133.60 939.20V860.70M163.70 939.20V860.70" stroke="#A3A3A3" stroke-width="1.7" stroke-dasharray="1.7 5.90" stroke-dashoffset="3.05" fill="none"/>
<path d="M103.50 888.60V888.70M103.50 889.70V889.80" stroke="#222" stroke-width="0.99"/>
<rect x="92.20" y="888.70" width="22.60" height="1.00" fill="#7CAE00" stroke="#262626" stroke-width="0.9"/>
<path d="M92.20 889.20H114.80" stroke="#262626" stroke-width="1.5"/>
<circle cx="103.50" cy="886.70" r="2.1" fill="#333"/>
<rect x="57.00" y="859.20" width="123.20" height="82.00" fill="none" stroke="#000" stroke-width="3.0"/>
<path d="M52.70 860.70H56.00" stroke="#333" stroke-width="1.1"/>
<text transform="translate(51.00,866.60) scale(1.100,1)" font-size="16.5" text-anchor="end" fill="#404040" stroke="#404040" stroke-width="0.2">1.0</text>
<path d="M52.70 886.97H56.00" stroke="#333" stroke-width="1.1"/>
<text transform="translate(51.00,892.87) scale(1.100,1)" font-size="16.5" text-anchor="end" fill="#404040" stroke="#404040" stroke-width="0.2">0.9</text>
<path d="M52.70 913.24H56.00" stroke="#333" stroke-width="1.1"/>
<text transform="translate(51.00,919.14) scale(1.100,1)" font-size="16.5" text-anchor="end" fill="#404040" stroke="#404040" stroke-width="0.2">0.8</text>
<path d="M52.70 939.51H56.00" stroke="#333" stroke-width="1.1"/>
<text transform="translate(51.00,945.41) scale(1.100,1)" font-size="16.5" text-anchor="end" fill="#404040" stroke="#404040" stroke-width="0.2">0.7</text>
<path d="M73.40 942.20V945.50" stroke="#333" stroke-width="1.1"/>
<text transform="translate(79.90,958.00) scale(1.100,1) rotate(-30)" font-size="15.8" text-anchor="end" fill="#404040" stroke="#404040" stroke-width="0.2">1NN</text>
<path d="M103.50 942.20V945.50" stroke="#333" stroke-width="1.1"/>
<text transform="translate(110.00,958.00) scale(1.100,1) rotate(-30)" font-size="15.8" text-anchor="end" fill="#404040" stroke="#404040" stroke-width="0.2">1NN/SVM/C5.0</text>
<path d="M133.60 942.20V945.50" stroke="#333" stroke-width="1.1"/>
<text transform="translate(140.10,958.00) scale(1.100,1) rotate(-30)" font-size="15.8" text-anchor="end" fill="#404040" stroke="#404040" stroke-width="0.2">C5.0</text>
<path d="M163.70 942.20V945.50" stroke="#333" stroke-width="1.1"/>
<text transform="translate(170.20,958.00) scale(1.100,1) rotate(-30)" font-size="15.8" text-anchor="end" fill="#404040" stroke="#404040" stroke-width="0.2">SVM</text>
<path d="M190.80 860.70H310.50M190.80 886.97H310.50M190.80 913.24H310.50M190.80 939.51H310.50" stroke="#A3A3A3" stroke-width="1.7" stroke-dasharray="1.7 6.40" stroke-dashoffset="3.05" fill="none"/>
<path d="M205.20 939.20V860.70M235.30 939.20V860.70M265.40 939.20V860.70M295.50 939.20V860.70" stroke="#A3A3A3" stroke-width="1.7" stroke-dasharray="1.7 5.90" stroke-dashoffset="3.05" fill="none"/>
<path d="M205.20 888.00V888.10M205.20 888.90V889.00" stroke="#222" stroke-width="0.99"/>
<rect x="193.90" y="888.10" width="22.60" height="0.80" fill="#F8766D" stroke="#262626" stroke-width="0.9"/>
<path d="M193.90 888.50H216.50" stroke="#262626" stroke-width="1.5"/>
<path d="M265.40 936.20V936.30M265.40 936.90V937.00" stroke="#222" stroke-width="0.99"/>
<rect x="254.10" y="936.30" width="22.60" height="0.60" fill="#00BFC4" stroke="#262626" stroke-width="0.9"/>
<path d="M254.10 936.60H276.70" stroke="#262626" stroke-width="1.5"/>
<path d="M295.50 899.50V899.90M295.50 902.70V903.00" stroke="#222" stroke-width="0.99"/>
<rect x="284.20" y="899.90" width="22.60" height="2.80" fill="#C77CFF" stroke="#262626" stroke-width="0.9"/>
<path d="M284.20 901.30H306.80" stroke="#262626" stroke-width="1.5"/>
<circle cx="295.50" cy="907.00" r="2.1" fill="#333"/>
<rect x="188.80" y="859.20" width="123.20" height="82.00" fill="none" stroke="#000" stroke-width="3.0"/>
<path d="M205.20 942.20V945.50" stroke="#333" stroke-width="1.1"/>
<text transform="translate(211.70,958.00) scale(1.100,1) rotate(-30)" font-size="15.8" text-anchor="end" fill="#404040" stroke="#404040" stroke-width="0.2">1NN</text>
<path d="M235.30 942.20V945.50" stroke="#333" stroke-width="1.1"/>
<text transform="translate(241.80,958.00) scale(1.100,1) rotate(-30)" font-size="15.8" text-anchor="end" fill="#404040" stroke="#404040" stroke-width="0.2">1NN/SVM/C5.0</text>
<path d="M265.40 942.20V945.50" stroke="#333" stroke-width="1.1"/>
<text transform="translate(271.90,958.00) scale(1.100,1) rotate(-30)" font-size="15.8" text-anchor="end" fill="#404040" stroke="#404040" stroke-width="0.2">C5.0</text>
<path d="M295.50 942.20V945.50" stroke="#333" stroke-width="1.1"/>
<text transform="translate(302.00,958.00) scale(1.100,1) rotate(-30)" font-size="15.8" text-anchor="end" fill="#404040" stroke="#404040" stroke-width="0.2">SVM</text>
<path d="M322.60 860.70H442.30M322.60 886.97H442.30M322.60 913.24H442.30M322.60 939.51H442.30" stroke="#A3A3A3" stroke-width="1.7" stroke-dasharray="1.7 6.40" stroke-dashoffset="3.05" fill="none"/>
<path d="M337.00 939.20V860.70M367.10 939.20V860.70M397.20 939.20V860.70M427.30 939.20V860.70" stroke="#A3A3A3" stroke-width="1.7" stroke-dasharray="1.7 5.90" stroke-dashoffset="3.05" fill="none"/>
<path d="M337.00 888.80V889.20M337.00 893.10V893.50" stroke="#222" stroke-width="0.99"/>
<rect x="325.70" y="889.20" width="22.60" height="3.90" fill="#F8766D" stroke="#262626" stroke-width="0.9"/>
<path d="M325.70 891.10H348.30" stroke="#262626" stroke-width="1.5"/>
<path d="M397.20 930.80V931.20M397.20 936.60V937.00" stroke="#222" stroke-width="0.99"/>
<rect x="385.90" y="931.20" width="22.60" height="5.40" fill="#00BFC4" stroke="#262626" stroke-width="0.9"/>
<path d="M385.90 934.10H408.50" stroke="#262626" stroke-width="1.5"/>
<path d="M427.30 876.30V876.70M427.30 878.90V879.30" stroke="#222" stroke-width="0.99"/>
<rect x="416.00" y="876.70" width="22.60" height="2.20" fill="#C77CFF" stroke="#262626" stroke-width="0.9"/>
<path d="M416.00 877.80H438.60" stroke="#262626" stroke-width="1.5"/>
<circle cx="427.30" cy="882.40" r="2.1" fill="#333"/>
<rect x="320.60" y="859.20" width="123.20" height="82.00" fill="none" stroke="#000" stroke-width="3.0"/>
<path d="M337.00 942.20V945.50" stroke="#333" stroke-width="1.1"/>
<text transform="translate(343.50,958.00) scale(1.100,1) rotate(-30)" font-size="15.8" text-anchor="end" fill="#404040" stroke="#404040" stroke-width="0.2">1NN</text>
<path d="M367.10 942.20V945.50" stroke="#333" stroke-width="1.1"/>
<text transform="translate(373.60,958.00) scale(1.100,1) rotate(-30)" font-size="15.8" text-anchor="end" fill="#404040" stroke="#404040" stroke-width="0.2">1NN/SVM/C5.0</text>
<path d="M397.20 942.20V945.50" stroke="#333" stroke-width="1.1"/>
<text transform="translate(403.70,958.00) scale(1.100,1) rotate(-30)" font-size="15.8" text-anchor="end" fill="#404040" stroke="#404040" stroke-width="0.2">C5.0</text>
<path d="M427.30 942.20V945.50" stroke="#333" stroke-width="1.1"/>
<text transform="translate(433.80,958.00) scale(1.100,1) rotate(-30)" font-size="15.8" text-anchor="end" fill="#404040" stroke="#404040" stroke-width="0.2">SVM</text>
<path d="M454.40 860.70H574.10M454.40 886.97H574.10M454.40 913.24H574.10M454.40 939.51H574.10" stroke="#A3A3A3" stroke-width="1.7" stroke-dasharray="1.7 6.40" stroke-dashoffset="3.05" fill="none"/>
<path d="M468.80 939.20V860.70M498.90 939.20V860.70M529.00 939.20V860.70M559.10 939.20V860.70" stroke="#A3A3A3" stroke-width="1.7" stroke-dasharray="1.7 5.90" stroke-dashoffset="3.05" fill="none"/>
<path d="M468.80 888.50V891.00M468.80 893.50V893.90" stroke="#222" stroke-width="0.99"/>
<rect x="457.50" y="891.00" width="22.60" height="2.50" fill="#F8766D" stroke="#262626" stroke-width="0.9"/>
<path d="M457.50 892.20H480.10" stroke="#262626" stroke-width="1.5"/>
<circle cx="468.80" cy="897.40" r="2.1" fill="#333"/>
<rect x="452.40" y="859.20" width="123.20" height="82.00" fill="none" stroke="#000" stroke-width="3.0"/>
<path d="M468.80 942.20V945.50" stroke="#333" stroke-width="1.1"/>
<text transform="translate(475.30,958.00) scale(1.100,1) rotate(-30)" font-size="15.8" text-anchor="end" fill="#404040" stroke="#404040" stroke-width="0.2">1NN</text>
<path d="M498.90 942.20V945.50" stroke="#333" stroke-width="1.1"/>
<text transform="translate(505.40,958.00) scale(1.100,1) rotate(-30)" font-size="15.8" text-anchor="end" fill="#404040" stroke="#404040" stroke-width="0.2">1NN/SVM/C5.0</text>
<path d="M529.00 942.20V945.50" stroke="#333" stroke-width="1.1"/>
<text transform="translate(535.50,958.00) scale(1.100,1) rotate(-30)" font-size="15.8" text-anchor="end" fill="#404040" stroke="#404040" stroke-width="0.2">C5.0</text>
<path d="M559.10 942.20V945.50" stroke="#333" stroke-width="1.1"/>
<text transform="translate(565.60,958.00) scale(1.100,1) rotate(-30)" font-size="15.8" text-anchor="end" fill="#404040" stroke="#404040" stroke-width="0.2">SVM</text>
<path d="M586.20 860.70H705.90M586.20 886.97H705.90M586.20 913.24H705.90M586.20 939.51H705.90" stroke="#A3A3A3" stroke-width="1.7" stroke-dasharray="1.7 6.40" stroke-dashoffset="3.05" fill="none"/>
<path d="M600.60 939.20V860.70M630.70 939.20V860.70M660.80 939.20V860.70M690.90 939.20V860.70" stroke="#A3A3A3" stroke-width="1.7" stroke-dasharray="1.7 5.90" stroke-dashoffset="3.05" fill="none"/>
<path d="M600.60 888.20V888.50M600.60 891.00V891.40" stroke="#222" stroke-width="0.99"/>
<rect x="589.30" y="888.50" width="22.60" height="2.50" fill="#F8766D" stroke="#262626" stroke-width="0.9"/>
<path d="M589.30 889.70H611.90" stroke="#262626" stroke-width="1.5"/>
<path d="M660.80 922.00V926.40M660.80 933.10V934.40" stroke="#222" stroke-width="0.99"/>
<rect x="649.50" y="926.40" width="22.60" height="6.70" fill="#00BFC4" stroke="#262626" stroke-width="0.9"/>
<path d="M649.50 927.20H672.10" stroke="#262626" stroke-width="1.5"/>
<path d="M690.90 896.70V899.90M690.90 906.10V911.40" stroke="#222" stroke-width="0.99"/>
<rect x="679.60" y="899.90" width="22.60" height="6.20" fill="#C77CFF" stroke="#262626" stroke-width="0.9"/>
<path d="M679.60 900.40H702.20" stroke="#262626" stroke-width="1.5"/>
<rect x="584.20" y="859.20" width="123.20" height="82.00" fill="none" stroke="#000" stroke-width="3.0"/>
<path d="M600.60 942.20V945.50" stroke="#333" stroke-width="1.1"/>
<text transform="translate(607.10,958.00) scale(1.100,1) rotate(-30)" font-size="15.8" text-anchor="end" fill="#404040" stroke="#404040" stroke-width="0.2">1NN</text>
<path d="M630.70 942.20V945.50" stroke="#333" stroke-width="1.1"/>
<text transform="translate(637.20,958.00) scale(1.100,1) rotate(-30)" font-size="15.8" text-anchor="end" fill="#404040" stroke="#404040" stroke-width="0.2">1NN/SVM/C5.0</text>
<path d="M660.80 942.20V945.50" stroke="#333" stroke-width="1.1"/>
<text transform="translate(667.30,958.00) scale(1.100,1) rotate(-30)" font-size="15.8" text-anchor="end" fill="#404040" stroke="#404040" stroke-width="0.2">C5.0</text>
<path d="M690.90 942.20V945.50" stroke="#333" stroke-width="1.1"/>
<text transform="translate(697.40,958.00) scale(1.100,1) rotate(-30)" font-size="15.8" text-anchor="end" fill="#404040" stroke="#404040" stroke-width="0.2">SVM</text>
<text transform="translate(20.20,763.20) scale(1.060,1) rotate(-90)" font-size="16.3" text-anchor="middle" fill="#000" stroke="#000" stroke-width="0.2">Proportion</text>
<text transform="translate(382.30,1028.60) scale(1.070,1)" font-size="16.3" text-anchor="middle" fill="#000" stroke="#000" stroke-width="0.2">Learner</text>
<rect x="232.30" y="1046.80" width="16.20" height="16.20" fill="#F2F2F2"/>
<path d="M240.40 1048.10V1061.70" stroke="#333" stroke-width="1.1"/>
<rect x="233.76" y="1050.93" width="13.28" height="7.94" fill="#F8766D" stroke="#333" stroke-width="1.1"/>
<path d="M233.76 1054.90H247.04" stroke="#333" stroke-width="1.5"/>
<text transform="translate(254.40,1059.90) scale(1.130,1)" font-size="13.6" fill="#000" stroke="#000" stroke-width="0.2">1NN</text>
<rect x="290.30" y="1046.80" width="16.20" height="16.20" fill="#F2F2F2"/>
<path d="M298.40 1048.10V1061.70" stroke="#333" stroke-width="1.1"/>
<rect x="291.76" y="1050.93" width="13.28" height="7.94" fill="#7CAE00" stroke="#333" stroke-width="1.1"/>
<path d="M291.76 1054.90H305.04" stroke="#333" stroke-width="1.5"/>
<text transform="translate(312.40,1059.90) scale(1.130,1)" font-size="13.6" fill="#000" stroke="#000" stroke-width="0.2">1NN/SVM/C5.0</text>
<rect x="422.80" y="1046.80" width="16.20" height="16.20" fill="#F2F2F2"/>
<path d="M430.90 1048.10V1061.70" stroke="#333" stroke-width="1.1"/>
<rect x="424.26" y="1050.93" width="13.28" height="7.94" fill="#00BFC4" stroke="#333" stroke-width="1.1"/>
<path d="M424.26 1054.90H437.54" stroke="#333" stroke-width="1.5"/>
<text transform="translate(444.20,1059.90) scale(1.130,1)" font-size="13.6" fill="#000" stroke="#000" stroke-width="0.2">C5.0</text>
<rect x="482.30" y="1046.80" width="16.20" height="16.20" fill="#F2F2F2"/>
<path d="M490.40 1048.10V1061.70" stroke="#333" stroke-width="1.1"/>
<rect x="483.76" y="1050.93" width="13.28" height="7.94" fill="#C77CFF" stroke="#333" stroke-width="1.1"/>
<path d="M483.76 1054.90H497.04" stroke="#333" stroke-width="1.5"/>
<text transform="translate(503.50,1059.90) scale(1.130,1)" font-size="13.6" fill="#000" stroke="#000" stroke-width="0.2">SVM</text>
<text transform="translate(15.50,1116.30)" font-size="41.3" fill="#000" stroke="#000" stroke-width="0.2">C.</text>
<rect x="80.10" y="1117.00" width="123.60" height="24.90" fill="#D9D9D9"/>
<text transform="translate(141.90,1135.80) scale(0.965,1)" font-size="19.5" text-anchor="middle" fill="#1A1A1A" stroke="#1A1A1A" stroke-width="0.2">DEMO</text>
<rect x="208.55" y="1117.00" width="123.60" height="24.90" fill="#D9D9D9"/>
<text transform="translate(270.35,1135.80) scale(0.965,1)" font-size="19.5" text-anchor="middle" fill="#1A1A1A" stroke="#1A1A1A" stroke-width="0.2">SELFT</text>
<rect x="337.00" y="1117.00" width="123.60" height="24.90" fill="#D9D9D9"/>
<text transform="translate(398.80,1135.80) scale(0.965,1)" font-size="19.5" text-anchor="middle" fill="#1A1A1A" stroke="#1A1A1A" stroke-width="0.2">SETRED</text>
<rect x="465.45" y="1117.00" width="123.60" height="24.90" fill="#D9D9D9"/>
<text transform="translate(527.25,1135.80) scale(0.965,1)" font-size="19.5" text-anchor="middle" fill="#1A1A1A" stroke="#1A1A1A" stroke-width="0.2">SNNRCE</text>
<rect x="593.90" y="1117.00" width="123.60" height="24.90" fill="#D9D9D9"/>
<text transform="translate(655.70,1135.80) scale(0.965,1)" font-size="19.5" text-anchor="middle" fill="#1A1A1A" stroke="#1A1A1A" stroke-width="0.2">TRITRAIN</text>
<rect x="718.30" y="1143.00" width="25.30" height="147.20" fill="#D9D9D9"/>
<text transform="translate(723.60,1216.60) scale(1.010,1) rotate(90)" font-size="18.64" text-anchor="middle" fill="#1A1A1A" stroke="#1A1A1A" stroke-width="0.2">Inductive</text>
<rect x="718.30" y="1296.50" width="25.30" height="147.20" fill="#D9D9D9"/>
<text transform="translate(723.60,1370.10) scale(1.010,1) rotate(90)" font-size="18.64" text-anchor="middle" fill="#1A1A1A" stroke="#1A1A1A" stroke-width="0.2">Transductive</text>
<path d="M83.60 1148.90H200.70M83.60 1193.80H200.70M83.60 1238.70H200.70M83.60 1283.60H200.70" stroke="#A3A3A3" stroke-width="1.7" stroke-dasharray="1.7 6.30" stroke-dashoffset="3.05" fill="none"/>
<path d="M97.76 1286.70V1146.00M127.19 1286.70V1146.00M156.62 1286.70V1146.00M186.05 1286.70V1146.00" stroke="#A3A3A3" stroke-width="1.7" stroke-dasharray="1.7 6.30" stroke-dashoffset="3.05" fill="none"/>
<path d="M127.19 1191.20V1191.70M127.19 1195.90V1196.40" stroke="#222" stroke-width="1.21"/>
<rect x="116.09" y="1191.70" width="22.20" height="4.20" fill="#7CAE00" stroke="#262626" stroke-width="1.1"/>
<path d="M116.09 1193.80H138.29" stroke="#262626" stroke-width="1.9"/>
<rect x="81.75" y="1144.65" width="120.30" height="143.90" fill="none" stroke="#000" stroke-width="3.3"/>
<path d="M77.30 1148.90H80.60" stroke="#333" stroke-width="1.1"/>
<text transform="translate(75.80,1155.70) scale(1.040,1)" font-size="18.5" text-anchor="end" fill="#404040" stroke="#404040" stroke-width="0.2">1.000</text>
<path d="M77.30 1193.80H80.60" stroke="#333" stroke-width="1.1"/>
<text transform="translate(75.80,1200.60) scale(1.040,1)" font-size="18.5" text-anchor="end" fill="#404040" stroke="#404040" stroke-width="0.2">0.999</text>
<path d="M77.30 1238.70H80.60" stroke="#333" stroke-width="1.1"/>
<text transform="translate(75.80,1245.50) scale(1.040,1)" font-size="18.5" text-anchor="end" fill="#404040" stroke="#404040" stroke-width="0.2">0.998</text>
<path d="M77.30 1283.60H80.60" stroke="#333" stroke-width="1.1"/>
<text transform="translate(75.80,1290.40) scale(1.040,1)" font-size="18.5" text-anchor="end" fill="#404040" stroke="#404040" stroke-width="0.2">0.997</text>
<path d="M212.05 1148.90H329.15M212.05 1193.80H329.15M212.05 1238.70H329.15M212.05 1283.60H329.15" stroke="#A3A3A3" stroke-width="1.7" stroke-dasharray="1.7 6.30" stroke-dashoffset="3.05" fill="none"/>
<path d="M226.21 1286.70V1146.00M255.64 1286.70V1146.00M285.07 1286.70V1146.00M314.50 1286.70V1146.00" stroke="#A3A3A3" stroke-width="1.7" stroke-dasharray="1.7 6.30" stroke-dashoffset="3.05" fill="none"/>
<path d="M226.21 1192.40V1195.90M226.21 1200.10V1203.00" stroke="#222" stroke-width="1.21"/>
<rect x="215.11" y="1195.90" width="22.20" height="4.20" fill="#F8766D" stroke="#262626" stroke-width="1.1"/>
<path d="M215.11 1198.00H237.31" stroke="#262626" stroke-width="1.9"/>
<path d="M285.07 1260.60V1263.40M285.07 1273.90V1277.00" stroke="#222" stroke-width="1.21"/>
<rect x="273.97" y="1263.40" width="22.20" height="10.50" fill="#00BFC4" stroke="#262626" stroke-width="1.1"/>
<path d="M273.97 1269.40H296.17" stroke="#262626" stroke-width="1.9"/>
<path d="M314.50 1177.80V1184.40M314.50 1189.70V1190.70" stroke="#222" stroke-width="1.21"/>
<rect x="303.40" y="1184.40" width="22.20" height="5.30" fill="#C77CFF" stroke="#262626" stroke-width="1.1"/>
<path d="M303.40 1185.60H325.60" stroke="#262626" stroke-width="1.9"/>
<rect x="210.20" y="1144.65" width="120.30" height="143.90" fill="none" stroke="#000" stroke-width="3.3"/>
<path d="M340.50 1148.90H457.60M340.50 1193.80H457.60M340.50 1238.70H457.60M340.50 1283.60H457.60" stroke="#A3A3A3" stroke-width="1.7" stroke-dasharray="1.7 6.30" stroke-dashoffset="3.05" fill="none"/>
<path d="M354.66 1286.70V1146.00M384.09 1286.70V1146.00M413.52 1286.70V1146.00M442.95 1286.70V1146.00" stroke="#A3A3A3" stroke-width="1.7" stroke-dasharray="1.7 6.30" stroke-dashoffset="3.05" fill="none"/>
<path d="M354.66 1198.00V1198.40M354.66 1201.20V1201.60" stroke="#222" stroke-width="1.21"/>
<rect x="343.56" y="1198.40" width="22.20" height="2.80" fill="#F8766D" stroke="#262626" stroke-width="1.1"/>
<path d="M343.56 1199.80H365.76" stroke="#262626" stroke-width="1.9"/>
<circle cx="354.66" cy="1192.40" r="1.8" fill="#333"/>
<path d="M352.06 1192.40H357.26M354.66 1189.80V1195.00M352.76 1190.50L356.56 1194.30M352.76 1194.30L356.56 1190.50" stroke="#333" stroke-width="0.9"/>
<circle cx="354.66" cy="1204.70" r="1.8" fill="#333"/>
<path d="M352.06 1204.70H357.26M354.66 1202.10V1207.30M352.76 1202.80L356.56 1206.60M352.76 1206.60L356.56 1202.80" stroke="#333" stroke-width="0.9"/>
<path d="M413.52 1257.00V1259.90M413.52 1264.80V1270.00" stroke="#222" stroke-width="1.21"/>
<rect x="402.42" y="1259.90" width="22.20" height="4.90" fill="#00BFC4" stroke="#262626" stroke-width="1.1"/>
<path d="M402.42 1262.40H424.62" stroke="#262626" stroke-width="1.9"/>
<path d="M442.95 1170.00V1172.20M442.95 1174.30V1174.80" stroke="#222" stroke-width="1.21"/>
<rect x="431.85" y="1172.20" width="22.20" height="2.10" fill="#C77CFF" stroke="#262626" stroke-width="1.1"/>
<path d="M431.85 1173.20H454.05" stroke="#262626" stroke-width="1.9"/>
<rect x="338.65" y="1144.65" width="120.30" height="143.90" fill="none" stroke="#000" stroke-width="3.3"/>
<path d="M468.95 1148.90H586.05M468.95 1193.80H586.05M468.95 1238.70H586.05M468.95 1283.60H586.05" stroke="#A3A3A3" stroke-width="1.7" stroke-dasharray="1.7 6.30" stroke-dashoffset="3.05" fill="none"/>
<path d="M483.11 1286.70V1146.00M512.54 1286.70V1146.00M541.97 1286.70V1146.00M571.40 1286.70V1146.00" stroke="#A3A3A3" stroke-width="1.7" stroke-dasharray="1.7 6.30" stroke-dashoffset="3.05" fill="none"/>
<path d="M483.11 1186.20V1190.70M483.11 1195.20V1197.70" stroke="#222" stroke-width="1.21"/>
<rect x="472.01" y="1190.70" width="22.20" height="4.50" fill="#F8766D" stroke="#262626" stroke-width="1.1"/>
<path d="M472.01 1193.00H494.21" stroke="#262626" stroke-width="1.9"/>
<rect x="467.10" y="1144.65" width="120.30" height="143.90" fill="none" stroke="#000" stroke-width="3.3"/>
<path d="M597.40 1148.90H714.50M597.40 1193.80H714.50M597.40 1238.70H714.50M597.40 1283.60H714.50" stroke="#A3A3A3" stroke-width="1.7" stroke-dasharray="1.7 6.30" stroke-dashoffset="3.05" fill="none"/>
<path d="M611.56 1286.70V1146.00M640.99 1286.70V1146.00M670.42 1286.70V1146.00M699.85 1286.70V1146.00" stroke="#A3A3A3" stroke-width="1.7" stroke-dasharray="1.7 6.30" stroke-dashoffset="3.05" fill="none"/>
<path d="M611.56 1199.70V1200.10M611.56 1203.60V1206.20" stroke="#222" stroke-width="1.21"/>
<rect x="600.46" y="1200.10" width="22.20" height="3.50" fill="#F8766D" stroke="#262626" stroke-width="1.1"/>
<path d="M600.46 1201.90H622.66" stroke="#262626" stroke-width="1.9"/>
<circle cx="611.56" cy="1194.90" r="1.8" fill="#333"/>
<path d="M608.96 1194.90H614.16M611.56 1192.30V1197.50M609.66 1193.00L613.46 1196.80M609.66 1196.80L613.46 1193.00" stroke="#333" stroke-width="0.9"/>
<path d="M670.42 1241.40V1248.00M670.42 1254.60V1258.40" stroke="#222" stroke-width="1.21"/>
<rect x="659.32" y="1248.00" width="22.20" height="6.60" fill="#00BFC4" stroke="#262626" stroke-width="1.1"/>
<path d="M659.32 1254.00H681.52" stroke="#262626" stroke-width="1.9"/>
<path d="M699.85 1180.90V1184.10M699.85 1189.60V1195.70" stroke="#222" stroke-width="1.21"/>
<rect x="688.75" y="1184.10" width="22.20" height="5.50" fill="#C77CFF" stroke="#262626" stroke-width="1.1"/>
<path d="M688.75 1187.00H710.95" stroke="#262626" stroke-width="1.9"/>
<rect x="595.55" y="1144.65" width="120.30" height="143.90" fill="none" stroke="#000" stroke-width="3.3"/>
<path d="M83.60 1302.60H200.70M83.60 1347.50H200.70M83.60 1392.40H200.70M83.60 1437.30H200.70" stroke="#A3A3A3" stroke-width="1.7" stroke-dasharray="1.7 6.30" stroke-dashoffset="3.05" fill="none"/>
<path d="M97.76 1440.20V1299.50M127.19 1440.20V1299.50M156.62 1440.20V1299.50M186.05 1440.20V1299.50" stroke="#A3A3A3" stroke-width="1.7" stroke-dasharray="1.7 6.30" stroke-dashoffset="3.05" fill="none"/>
<path d="M127.19 1344.40V1347.20M127.19 1352.50V1355.00" stroke="#222" stroke-width="1.21"/>
<rect x="116.09" y="1347.20" width="22.20" height="5.30" fill="#7CAE00" stroke="#262626" stroke-width="1.1"/>
<path d="M116.09 1349.70H138.29" stroke="#262626" stroke-width="1.9"/>
<rect x="81.75" y="1298.15" width="120.30" height="143.90" fill="none" stroke="#000" stroke-width="3.3"/>
<path d="M77.30 1302.60H80.60" stroke="#333" stroke-width="1.1"/>
<text transform="translate(75.80,1309.40) scale(1.040,1)" font-size="18.5" text-anchor="end" fill="#404040" stroke="#404040" stroke-width="0.2">1.000</text>
<path d="M77.30 1347.50H80.60" stroke="#333" stroke-width="1.1"/>
<text transform="translate(75.80,1354.30) scale(1.040,1)" font-size="18.5" text-anchor="end" fill="#404040" stroke="#404040" stroke-width="0.2">0.999</text>
<path d="M77.30 1392.40H80.60" stroke="#333" stroke-width="1.1"/>
<text transform="translate(75.80,1399.20) scale(1.040,1)" font-size="18.5" text-anchor="end" fill="#404040" stroke="#404040" stroke-width="0.2">0.998</text>
<path d="M77.30 1437.30H80.60" stroke="#333" stroke-width="1.1"/>
<text transform="translate(75.80,1444.10) scale(1.040,1)" font-size="18.5" text-anchor="end" fill="#404040" stroke="#404040" stroke-width="0.2">0.997</text>
<path d="M97.76 1443.20V1446.50" stroke="#333" stroke-width="1.1"/>
<text transform="translate(104.56,1460.00) scale(1.070,1) rotate(-30)" font-size="15.9" text-anchor="end" fill="#404040" stroke="#404040" stroke-width="0.2">1NN</text>
<path d="M127.19 1443.20V1446.50" stroke="#333" stroke-width="1.1"/>
<text transform="translate(133.99,1460.00) scale(1.070,1) rotate(-30)" font-size="15.9" text-anchor="end" fill="#404040" stroke="#404040" stroke-width="0.2">1NN/SVM/C5.0</text>
<path d="M156.62 1443.20V1446.50" stroke="#333" stroke-width="1.1"/>
<text transform="translate(163.42,1460.00) scale(1.070,1) rotate(-30)" font-size="15.9" text-anchor="end" fill="#404040" stroke="#404040" stroke-width="0.2">C5.0</text>
<path d="M186.05 1443.20V1446.50" stroke="#333" stroke-width="1.1"/>
<text transform="translate(192.85,1460.00) scale(1.070,1) rotate(-30)" font-size="15.9" text-anchor="end" fill="#404040" stroke="#404040" stroke-width="0.2">SVM</text>
<path d="M212.05 1302.60H329.15M212.05 1347.50H329.15M212.05 1392.40H329.15M212.05 1437.30H329.15" stroke="#A3A3A3" stroke-width="1.7" stroke-dasharray="1.7 6.30" stroke-dashoffset="3.05" fill="none"/>
<path d="M226.21 1440.20V1299.50M255.64 1440.20V1299.50M285.07 1440.20V1299.50M314.50 1440.20V1299.50" stroke="#A3A3A3" stroke-width="1.7" stroke-dasharray="1.7 6.30" stroke-dashoffset="3.05" fill="none"/>
<path d="M226.21 1345.80V1346.20M226.21 1350.40V1350.80" stroke="#222" stroke-width="1.21"/>
<rect x="215.11" y="1346.20" width="22.20" height="4.20" fill="#F8766D" stroke="#262626" stroke-width="1.1"/>
<path d="M215.11 1348.30H237.31" stroke="#262626" stroke-width="1.9"/>
<path d="M285.07 1418.60V1421.40M285.07 1429.40V1435.40" stroke="#222" stroke-width="1.21"/>
<rect x="273.97" y="1421.40" width="22.20" height="8.00" fill="#00BFC4" stroke="#262626" stroke-width="1.1"/>
<path d="M273.97 1425.60H296.17" stroke="#262626" stroke-width="1.9"/>
<circle cx="285.07" cy="1408.40" r="1.8" fill="#333"/>
<path d="M282.47 1408.40H287.67M285.07 1405.80V1411.00M283.17 1406.50L286.97 1410.30M283.17 1410.30L286.97 1406.50" stroke="#333" stroke-width="0.9"/>
<path d="M314.50 1339.50V1339.90M314.50 1343.70V1344.10" stroke="#222" stroke-width="1.21"/>
<rect x="303.40" y="1339.90" width="22.20" height="3.80" fill="#C77CFF" stroke="#262626" stroke-width="1.1"/>
<path d="M303.40 1341.80H325.60" stroke="#262626" stroke-width="1.9"/>
<rect x="210.20" y="1298.15" width="120.30" height="143.90" fill="none" stroke="#000" stroke-width="3.3"/>
<path d="M226.21 1443.20V1446.50" stroke="#333" stroke-width="1.1"/>
<text transform="translate(233.01,1460.00) scale(1.070,1) rotate(-30)" font-size="15.9" text-anchor="end" fill="#404040" stroke="#404040" stroke-width="0.2">1NN</text>
<path d="M255.64 1443.20V1446.50" stroke="#333" stroke-width="1.1"/>
<text transform="translate(262.44,1460.00) scale(1.070,1) rotate(-30)" font-size="15.9" text-anchor="end" fill="#404040" stroke="#404040" stroke-width="0.2">1NN/SVM/C5.0</text>
<path d="M285.07 1443.20V1446.50" stroke="#333" stroke-width="1.1"/>
<text transform="translate(291.87,1460.00) scale(1.070,1) rotate(-30)" font-size="15.9" text-anchor="end" fill="#404040" stroke="#404040" stroke-width="0.2">C5.0</text>
<path d="M314.50 1443.20V1446.50" stroke="#333" stroke-width="1.1"/>
<text transform="translate(321.30,1460.00) scale(1.070,1) rotate(-30)" font-size="15.9" text-anchor="end" fill="#404040" stroke="#404040" stroke-width="0.2">SVM</text>
<path d="M340.50 1302.60H457.60M340.50 1347.50H457.60M340.50 1392.40H457.60M340.50 1437.30H457.60" stroke="#A3A3A3" stroke-width="1.7" stroke-dasharray="1.7 6.30" stroke-dashoffset="3.05" fill="none"/>
<path d="M354.66 1440.20V1299.50M384.09 1440.20V1299.50M413.52 1440.20V1299.50M442.95 1440.20V1299.50" stroke="#A3A3A3" stroke-width="1.7" stroke-dasharray="1.7 6.30" stroke-dashoffset="3.05" fill="none"/>
<path d="M354.66 1345.10V1347.90M354.66 1352.80V1356.70" stroke="#222" stroke-width="1.21"/>
<rect x="343.56" y="1347.90" width="22.20" height="4.90" fill="#F8766D" stroke="#262626" stroke-width="1.1"/>
<path d="M343.56 1350.40H365.76" stroke="#262626" stroke-width="1.9"/>
<path d="M413.52 1398.60V1407.40M413.52 1416.50V1419.60" stroke="#222" stroke-width="1.21"/>
<rect x="402.42" y="1407.40" width="22.20" height="9.10" fill="#00BFC4" stroke="#262626" stroke-width="1.1"/>
<path d="M402.42 1412.60H424.62" stroke="#262626" stroke-width="1.9"/>
<path d="M442.95 1320.70V1323.50M442.95 1327.70V1331.20" stroke="#222" stroke-width="1.21"/>
<rect x="431.85" y="1323.50" width="22.20" height="4.20" fill="#C77CFF" stroke="#262626" stroke-width="1.1"/>
<path d="M431.85 1325.20H454.05" stroke="#262626" stroke-width="1.9"/>
<rect x="338.65" y="1298.15" width="120.30" height="143.90" fill="none" stroke="#000" stroke-width="3.3"/>
<path d="M354.66 1443.20V1446.50" stroke="#333" stroke-width="1.1"/>
<text transform="translate(361.46,1460.00) scale(1.070,1) rotate(-30)" font-size="15.9" text-anchor="end" fill="#404040" stroke="#404040" stroke-width="0.2">1NN</text>
<path d="M384.09 1443.20V1446.50" stroke="#333" stroke-width="1.1"/>
<text transform="translate(390.89,1460.00) scale(1.070,1) rotate(-30)" font-size="15.9" text-anchor="end" fill="#404040" stroke="#404040" stroke-width="0.2">1NN/SVM/C5.0</text>
<path d="M413.52 1443.20V1446.50" stroke="#333" stroke-width="1.1"/>
<text transform="translate(420.32,1460.00) scale(1.070,1) rotate(-30)" font-size="15.9" text-anchor="end" fill="#404040" stroke="#404040" stroke-width="0.2">C5.0</text>
<path d="M442.95 1443.20V1446.50" stroke="#333" stroke-width="1.1"/>
<text transform="translate(449.75,1460.00) scale(1.070,1) rotate(-30)" font-size="15.9" text-anchor="end" fill="#404040" stroke="#404040" stroke-width="0.2">SVM</text>
<path d="M468.95 1302.60H586.05M468.95 1347.50H586.05M468.95 1392.40H586.05M468.95 1437.30H586.05" stroke="#A3A3A3" stroke-width="1.7" stroke-dasharray="1.7 6.30" stroke-dashoffset="3.05" fill="none"/>
<path d="M483.11 1440.20V1299.50M512.54 1440.20V1299.50M541.97 1440.20V1299.50M571.40 1440.20V1299.50" stroke="#A3A3A3" stroke-width="1.7" stroke-dasharray="1.7 6.30" stroke-dashoffset="3.05" fill="none"/>
<path d="M483.11 1346.50V1346.90M483.11 1357.00V1357.40" stroke="#222" stroke-width="1.21"/>
<rect x="472.01" y="1346.90" width="22.20" height="10.10" fill="#F8766D" stroke="#262626" stroke-width="1.1"/>
<path d="M472.01 1351.40H494.21" stroke="#262626" stroke-width="1.9"/>
<rect x="467.10" y="1298.15" width="120.30" height="143.90" fill="none" stroke="#000" stroke-width="3.3"/>
<path d="M483.11 1443.20V1446.50" stroke="#333" stroke-width="1.1"/>
<text transform="translate(489.91,1460.00) scale(1.070,1) rotate(-30)" font-size="15.9" text-anchor="end" fill="#404040" stroke="#404040" stroke-width="0.2">1NN</text>
<path d="M512.54 1443.20V1446.50" stroke="#333" stroke-width="1.1"/>
<text transform="translate(519.34,1460.00) scale(1.070,1) rotate(-30)" font-size="15.9" text-anchor="end" fill="#404040" stroke="#404040" stroke-width="0.2">1NN/SVM/C5.0</text>
<path d="M541.97 1443.20V1446.50" stroke="#333" stroke-width="1.1"/>
<text transform="translate(548.77,1460.00) scale(1.070,1) rotate(-30)" font-size="15.9" text-anchor="end" fill="#404040" stroke="#404040" stroke-width="0.2">C5.0</text>
<path d="M571.40 1443.20V1446.50" stroke="#333" stroke-width="1.1"/>
<text transform="translate(578.20,1460.00) scale(1.070,1) rotate(-30)" font-size="15.9" text-anchor="end" fill="#404040" stroke="#404040" stroke-width="0.2">SVM</text>
<path d="M597.40 1302.60H714.50M597.40 1347.50H714.50M597.40 1392.40H714.50M597.40 1437.30H714.50" stroke="#A3A3A3" stroke-width="1.7" stroke-dasharray="1.7 6.30" stroke-dashoffset="3.05" fill="none"/>
<path d="M611.56 1440.20V1299.50M640.99 1440.20V1299.50M670.42 1440.20V1299.50M699.85 1440.20V1299.50" stroke="#A3A3A3" stroke-width="1.7" stroke-dasharray="1.7 6.30" stroke-dashoffset="3.05" fill="none"/>
<path d="M611.56 1344.80V1346.30M611.56 1353.30V1358.20" stroke="#222" stroke-width="1.21"/>
<rect x="600.46" y="1346.30" width="22.20" height="7.00" fill="#F8766D" stroke="#262626" stroke-width="1.1"/>
<path d="M600.46 1348.60H622.66" stroke="#262626" stroke-width="1.9"/>
<path d="M670.42 1390.40V1399.50M670.42 1412.20V1419.10" stroke="#222" stroke-width="1.21"/>
<rect x="659.32" y="1399.50" width="22.20" height="12.70" fill="#00BFC4" stroke="#262626" stroke-width="1.1"/>
<path d="M659.32 1405.50H681.52" stroke="#262626" stroke-width="1.9"/>
<path d="M699.85 1338.20V1339.40M699.85 1345.10V1347.40" stroke="#222" stroke-width="1.21"/>
<rect x="688.75" y="1339.40" width="22.20" height="5.70" fill="#C77CFF" stroke="#262626" stroke-width="1.1"/>
<path d="M688.75 1342.00H710.95" stroke="#262626" stroke-width="1.9"/>
<rect x="595.55" y="1298.15" width="120.30" height="143.90" fill="none" stroke="#000" stroke-width="3.3"/>
<path d="M611.56 1443.20V1446.50" stroke="#333" stroke-width="1.1"/>
<text transform="translate(618.36,1460.00) scale(1.070,1) rotate(-30)" font-size="15.9" text-anchor="end" fill="#404040" stroke="#404040" stroke-width="0.2">1NN</text>
<path d="M640.99 1443.20V1446.50" stroke="#333" stroke-width="1.1"/>
<text transform="translate(647.79,1460.00) scale(1.070,1) rotate(-30)" font-size="15.9" text-anchor="end" fill="#404040" stroke="#404040" stroke-width="0.2">1NN/SVM/C5.0</text>
<path d="M670.42 1443.20V1446.50" stroke="#333" stroke-width="1.1"/>
<text transform="translate(677.22,1460.00) scale(1.070,1) rotate(-30)" font-size="15.9" text-anchor="end" fill="#404040" stroke="#404040" stroke-width="0.2">C5.0</text>
<path d="M699.85 1443.20V1446.50" stroke="#333" stroke-width="1.1"/>
<text transform="translate(706.65,1460.00) scale(1.070,1) rotate(-30)" font-size="15.9" text-anchor="end" fill="#404040" stroke="#404040" stroke-width="0.2">SVM</text>
<text transform="translate(21.30,1293.10) scale(1.080,1) rotate(-90)" font-size="18.8" text-anchor="middle" fill="#000" stroke="#000" stroke-width="0.2">Specificity</text>
<text transform="translate(398.55,1535.40)" font-size="18.9" text-anchor="middle" fill="#000" stroke="#000" stroke-width="0.2">Learner</text>
<rect x="239.60" y="1555.30" width="15.30" height="16.00" fill="#F2F2F2"/>
<path d="M247.25 1556.58V1570.02" stroke="#333" stroke-width="1.1"/>
<rect x="240.98" y="1559.38" width="12.55" height="7.84" fill="#F8766D" stroke="#333" stroke-width="1.1"/>
<path d="M240.98 1563.30H253.52" stroke="#333" stroke-width="1.5"/>
<text transform="translate(260.50,1568.60) scale(1.120,1)" font-size="15.4" fill="#000" stroke="#000" stroke-width="0.2">1NN</text>
<rect x="300.40" y="1555.30" width="15.30" height="16.00" fill="#F2F2F2"/>
<path d="M308.05 1556.58V1570.02" stroke="#333" stroke-width="1.1"/>
<rect x="301.78" y="1559.38" width="12.55" height="7.84" fill="#7CAE00" stroke="#333" stroke-width="1.1"/>
<path d="M301.78 1563.30H314.32" stroke="#333" stroke-width="1.5"/>
<text transform="translate(320.50,1568.60) scale(1.120,1)" font-size="15.4" fill="#000" stroke="#000" stroke-width="0.2">1NN/SVM/C5.0</text>
<rect x="443.30" y="1555.30" width="15.30" height="16.00" fill="#F2F2F2"/>
<path d="M450.95 1556.58V1570.02" stroke="#333" stroke-width="1.1"/>
<rect x="444.68" y="1559.38" width="12.55" height="7.84" fill="#00BFC4" stroke="#333" stroke-width="1.1"/>
<path d="M444.68 1563.30H457.22" stroke="#333" stroke-width="1.5"/>
<text transform="translate(463.60,1568.60) scale(1.120,1)" font-size="15.4" fill="#000" stroke="#000" stroke-width="0.2">C5.0</text>
<rect x="504.80" y="1555.30" width="15.30" height="16.00" fill="#F2F2F2"/>
<path d="M512.45 1556.58V1570.02" stroke="#333" stroke-width="1.1"/>
<rect x="506.18" y="1559.38" width="12.55" height="7.84" fill="#C77CFF" stroke="#333" stroke-width="1.1"/>
<path d="M506.18 1563.30H518.72" stroke="#333" stroke-width="1.5"/>
<text transform="translate(525.50,1568.60) scale(1.120,1)" font-size="15.4" fill="#000" stroke="#000" stroke-width="0.2">SVM</text>
</g>
</svg>
</body></html>
